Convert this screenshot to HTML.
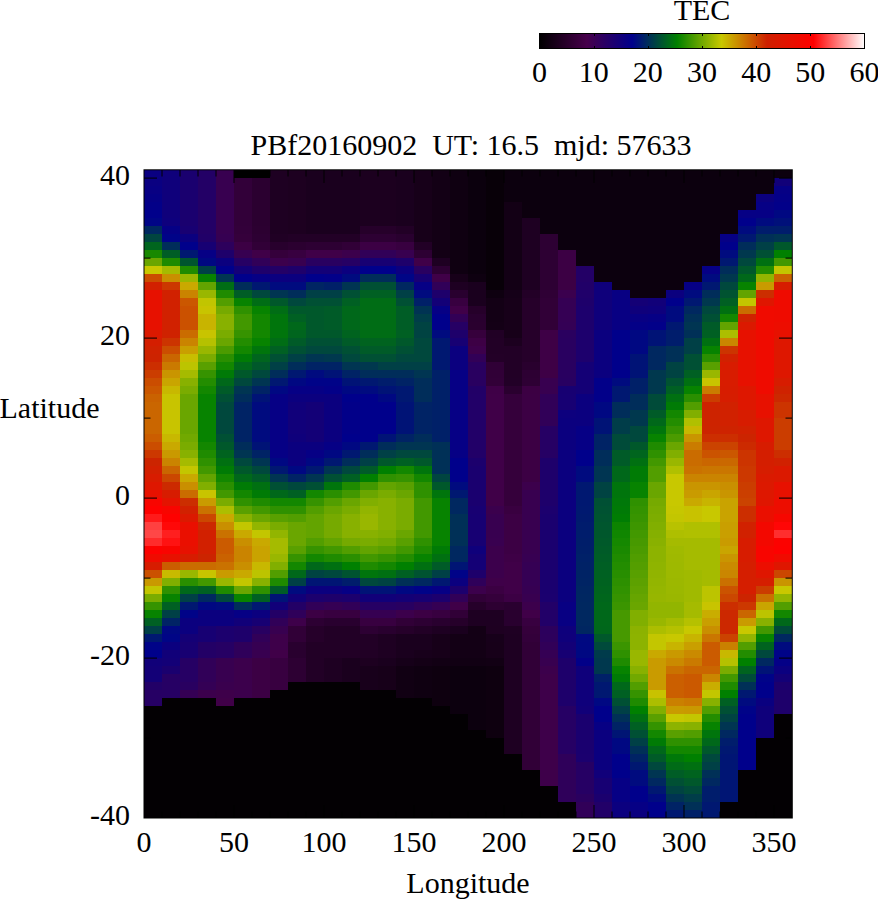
<!DOCTYPE html>
<html><head><meta charset="utf-8"><title>TEC</title>
<style>
html,body{margin:0;padding:0;background:#fff;}
body{width:878px;height:900px;overflow:hidden;position:relative;}
svg{position:absolute;left:0;top:0;}
text{font-family:"Liberation Serif","DejaVu Serif",serif;font-size:30px;fill:#000;}
</style></head><body>
<svg width="878" height="900" viewBox="0 0 878 900">
<defs>
<linearGradient id="pal" x1="0" x2="1" y1="0" y2="0">
<stop offset="0.0000" stop-color="#000"/>
<stop offset="0.1450" stop-color="#46004a"/>
<stop offset="0.2850" stop-color="#00008b"/>
<stop offset="0.4233" stop-color="#008000"/>
<stop offset="0.5600" stop-color="#c8c800"/>
<stop offset="0.7000" stop-color="#ce2000"/>
<stop offset="0.8433" stop-color="#f00"/>
<stop offset="1.0000" stop-color="#fff"/>
</linearGradient>
</defs>
<g shape-rendering="crispEdges">
<rect x="144" y="170" width="648" height="648" fill="#000"/>
<rect x="144" y="170" width="18" height="16" fill="#0a0081"/>
<rect x="144" y="186" width="18" height="8" fill="#080083"/>
<rect x="144" y="194" width="18" height="8" fill="#050085"/>
<rect x="144" y="202" width="18" height="8" fill="#030088"/>
<rect x="144" y="210" width="18" height="8" fill="#00008b"/>
<rect x="144" y="218" width="18" height="8" fill="#000586"/>
<rect x="144" y="226" width="18" height="8" fill="#002860"/>
<rect x="144" y="234" width="18" height="8" fill="#004540"/>
<rect x="144" y="242" width="18" height="8" fill="#00651e"/>
<rect x="144" y="250" width="18" height="8" fill="#188800"/>
<rect x="144" y="258" width="18" height="8" fill="#6aa600"/>
<rect x="144" y="266" width="18" height="8" fill="#c8c800"/>
<rect x="144" y="274" width="18" height="8" fill="#cb4d00"/>
<rect x="144" y="282" width="18" height="8" fill="#d22000"/>
<rect x="144" y="290" width="18" height="40" fill="#e71100"/>
<rect x="144" y="330" width="18" height="8" fill="#db1900"/>
<rect x="144" y="338" width="18" height="8" fill="#d41e00"/>
<rect x="144" y="346" width="18" height="8" fill="#cf2200"/>
<rect x="144" y="354" width="18" height="8" fill="#cd2300"/>
<rect x="144" y="362" width="18" height="8" fill="#cc2e00"/>
<rect x="144" y="370" width="18" height="8" fill="#cb3d00"/>
<rect x="144" y="378" width="18" height="8" fill="#cb4d00"/>
<rect x="144" y="386" width="18" height="8" fill="#cb5700"/>
<rect x="144" y="394" width="18" height="8" fill="#ca6200"/>
<rect x="144" y="402" width="18" height="32" fill="#ca6600"/>
<rect x="144" y="434" width="18" height="8" fill="#cb5d00"/>
<rect x="144" y="442" width="18" height="8" fill="#cb4d00"/>
<rect x="144" y="450" width="18" height="8" fill="#cc3800"/>
<rect x="144" y="458" width="18" height="8" fill="#cc2400"/>
<rect x="144" y="466" width="18" height="8" fill="#d22000"/>
<rect x="144" y="474" width="18" height="8" fill="#d81c00"/>
<rect x="144" y="482" width="18" height="8" fill="#de1700"/>
<rect x="144" y="490" width="18" height="8" fill="#e71100"/>
<rect x="144" y="498" width="18" height="8" fill="#f80500"/>
<rect x="144" y="506" width="18" height="8" fill="#fe0100"/>
<rect x="144" y="514" width="18" height="8" fill="#ff1a1a"/>
<rect x="144" y="522" width="18" height="8" fill="#ff4040"/>
<rect x="144" y="530" width="18" height="8" fill="#ff4747"/>
<rect x="144" y="538" width="18" height="8" fill="#ff2b2b"/>
<rect x="144" y="546" width="18" height="8" fill="#fd0100"/>
<rect x="144" y="554" width="18" height="8" fill="#ef0b00"/>
<rect x="144" y="562" width="18" height="8" fill="#d71c00"/>
<rect x="144" y="570" width="18" height="8" fill="#cb5100"/>
<rect x="144" y="578" width="18" height="8" fill="#c99900"/>
<rect x="144" y="586" width="18" height="8" fill="#c3c600"/>
<rect x="144" y="594" width="18" height="8" fill="#7aac00"/>
<rect x="144" y="602" width="18" height="8" fill="#369300"/>
<rect x="144" y="610" width="18" height="8" fill="#078300"/>
<rect x="144" y="618" width="18" height="8" fill="#006023"/>
<rect x="144" y="626" width="18" height="8" fill="#004046"/>
<rect x="144" y="634" width="18" height="8" fill="#001871"/>
<rect x="144" y="642" width="18" height="8" fill="#000388"/>
<rect x="144" y="650" width="18" height="8" fill="#00008b"/>
<rect x="144" y="658" width="18" height="8" fill="#110079"/>
<rect x="144" y="666" width="18" height="16" fill="#130077"/>
<rect x="144" y="682" width="18" height="8" fill="#220067"/>
<rect x="144" y="690" width="18" height="16" fill="#260064"/>
<rect x="144" y="706" width="18" height="112" fill="#030003"/>
<rect x="162" y="170" width="18" height="48" fill="#0f007b"/>
<rect x="162" y="218" width="18" height="8" fill="#0e007d"/>
<rect x="162" y="226" width="18" height="8" fill="#050085"/>
<rect x="162" y="234" width="18" height="8" fill="#000388"/>
<rect x="162" y="242" width="18" height="8" fill="#002d5a"/>
<rect x="162" y="250" width="18" height="8" fill="#005d26"/>
<rect x="162" y="258" width="18" height="8" fill="#1f8b00"/>
<rect x="162" y="266" width="18" height="8" fill="#a5bb00"/>
<rect x="162" y="274" width="18" height="8" fill="#c98f00"/>
<rect x="162" y="282" width="18" height="8" fill="#cc3800"/>
<rect x="162" y="290" width="18" height="40" fill="#d12100"/>
<rect x="162" y="330" width="18" height="8" fill="#cf2200"/>
<rect x="162" y="338" width="18" height="8" fill="#cc3400"/>
<rect x="162" y="346" width="18" height="8" fill="#cb4d00"/>
<rect x="162" y="354" width="18" height="8" fill="#ca6600"/>
<rect x="162" y="362" width="18" height="8" fill="#ca7a00"/>
<rect x="162" y="370" width="18" height="8" fill="#c99500"/>
<rect x="162" y="378" width="18" height="8" fill="#c9a500"/>
<rect x="162" y="386" width="18" height="8" fill="#c8b800"/>
<rect x="162" y="394" width="18" height="40" fill="#c8c400"/>
<rect x="162" y="434" width="18" height="8" fill="#c8b800"/>
<rect x="162" y="442" width="18" height="8" fill="#c9a900"/>
<rect x="162" y="450" width="18" height="8" fill="#c99900"/>
<rect x="162" y="458" width="18" height="8" fill="#ca8400"/>
<rect x="162" y="466" width="18" height="8" fill="#ca6600"/>
<rect x="162" y="474" width="18" height="8" fill="#cb4700"/>
<rect x="162" y="482" width="18" height="8" fill="#cc2a00"/>
<rect x="162" y="490" width="18" height="8" fill="#d71c00"/>
<rect x="162" y="498" width="18" height="8" fill="#e41300"/>
<rect x="162" y="506" width="18" height="8" fill="#f80500"/>
<rect x="162" y="514" width="18" height="8" fill="#fe0100"/>
<rect x="162" y="522" width="18" height="8" fill="#ff0808"/>
<rect x="162" y="530" width="18" height="8" fill="#ff1f1f"/>
<rect x="162" y="538" width="18" height="8" fill="#ff1212"/>
<rect x="162" y="546" width="18" height="8" fill="#f90400"/>
<rect x="162" y="554" width="18" height="8" fill="#e71100"/>
<rect x="162" y="562" width="18" height="8" fill="#cb5d00"/>
<rect x="162" y="570" width="18" height="8" fill="#c8ba00"/>
<rect x="162" y="578" width="18" height="8" fill="#81af00"/>
<rect x="162" y="586" width="18" height="8" fill="#2f9100"/>
<rect x="162" y="594" width="18" height="8" fill="#078300"/>
<rect x="162" y="602" width="18" height="8" fill="#006023"/>
<rect x="162" y="610" width="18" height="8" fill="#004046"/>
<rect x="162" y="618" width="18" height="8" fill="#002365"/>
<rect x="162" y="626" width="18" height="8" fill="#000882"/>
<rect x="162" y="634" width="18" height="8" fill="#000586"/>
<rect x="162" y="642" width="18" height="8" fill="#0b007f"/>
<rect x="162" y="650" width="18" height="8" fill="#110079"/>
<rect x="162" y="658" width="18" height="8" fill="#130077"/>
<rect x="162" y="666" width="18" height="8" fill="#1a006f"/>
<rect x="162" y="674" width="18" height="24" fill="#260064"/>
<rect x="162" y="698" width="18" height="120" fill="#030003"/>
<rect x="180" y="170" width="18" height="56" fill="#1a006f"/>
<rect x="180" y="226" width="18" height="8" fill="#180072"/>
<rect x="180" y="234" width="18" height="8" fill="#0b007f"/>
<rect x="180" y="242" width="18" height="8" fill="#00008b"/>
<rect x="180" y="250" width="18" height="8" fill="#001871"/>
<rect x="180" y="258" width="18" height="8" fill="#00552f"/>
<rect x="180" y="266" width="18" height="8" fill="#1f8b00"/>
<rect x="180" y="274" width="18" height="8" fill="#99b700"/>
<rect x="180" y="282" width="18" height="8" fill="#c9a900"/>
<rect x="180" y="290" width="18" height="8" fill="#ca8400"/>
<rect x="180" y="298" width="18" height="8" fill="#cb5700"/>
<rect x="180" y="306" width="18" height="24" fill="#cb5100"/>
<rect x="180" y="330" width="18" height="8" fill="#ca6c00"/>
<rect x="180" y="338" width="18" height="8" fill="#ca8400"/>
<rect x="180" y="346" width="18" height="8" fill="#c99f00"/>
<rect x="180" y="354" width="18" height="8" fill="#c8be00"/>
<rect x="180" y="362" width="18" height="8" fill="#bcc400"/>
<rect x="180" y="370" width="18" height="8" fill="#a5bb00"/>
<rect x="180" y="378" width="18" height="8" fill="#88b100"/>
<rect x="180" y="386" width="18" height="8" fill="#7aac00"/>
<rect x="180" y="394" width="18" height="40" fill="#6aa600"/>
<rect x="180" y="434" width="18" height="8" fill="#71a900"/>
<rect x="180" y="442" width="18" height="8" fill="#7aac00"/>
<rect x="180" y="450" width="18" height="8" fill="#88b100"/>
<rect x="180" y="458" width="18" height="8" fill="#a5bb00"/>
<rect x="180" y="466" width="18" height="8" fill="#c3c600"/>
<rect x="180" y="474" width="18" height="8" fill="#c9a900"/>
<rect x="180" y="482" width="18" height="8" fill="#c98f00"/>
<rect x="180" y="490" width="18" height="8" fill="#ca6c00"/>
<rect x="180" y="498" width="18" height="8" fill="#cc2e00"/>
<rect x="180" y="506" width="18" height="8" fill="#d12100"/>
<rect x="180" y="514" width="18" height="8" fill="#db1900"/>
<rect x="180" y="522" width="18" height="24" fill="#ea0f00"/>
<rect x="180" y="546" width="18" height="8" fill="#e71100"/>
<rect x="180" y="554" width="18" height="8" fill="#d71c00"/>
<rect x="180" y="562" width="18" height="8" fill="#ca6c00"/>
<rect x="180" y="570" width="18" height="8" fill="#99b700"/>
<rect x="180" y="578" width="18" height="8" fill="#2a8f00"/>
<rect x="180" y="586" width="18" height="8" fill="#00681a"/>
<rect x="180" y="594" width="18" height="8" fill="#004046"/>
<rect x="180" y="602" width="18" height="8" fill="#001871"/>
<rect x="180" y="610" width="18" height="8" fill="#000388"/>
<rect x="180" y="618" width="18" height="16" fill="#0b007f"/>
<rect x="180" y="634" width="18" height="8" fill="#140076"/>
<rect x="180" y="642" width="18" height="8" fill="#170073"/>
<rect x="180" y="650" width="18" height="8" fill="#180072"/>
<rect x="180" y="658" width="18" height="24" fill="#260064"/>
<rect x="180" y="682" width="18" height="8" fill="#290060"/>
<rect x="180" y="690" width="18" height="8" fill="#350054"/>
<rect x="180" y="698" width="18" height="120" fill="#030003"/>
<rect x="198" y="170" width="18" height="64" fill="#230066"/>
<rect x="198" y="234" width="18" height="8" fill="#210068"/>
<rect x="198" y="242" width="18" height="8" fill="#170073"/>
<rect x="198" y="250" width="18" height="8" fill="#060085"/>
<rect x="198" y="258" width="18" height="8" fill="#000882"/>
<rect x="198" y="266" width="18" height="8" fill="#004046"/>
<rect x="198" y="274" width="18" height="8" fill="#078300"/>
<rect x="198" y="282" width="18" height="8" fill="#63a400"/>
<rect x="198" y="290" width="18" height="8" fill="#99b700"/>
<rect x="198" y="298" width="18" height="8" fill="#c1c500"/>
<rect x="198" y="306" width="18" height="8" fill="#c8c400"/>
<rect x="198" y="314" width="18" height="16" fill="#c8b400"/>
<rect x="198" y="330" width="18" height="8" fill="#c8c400"/>
<rect x="198" y="338" width="18" height="8" fill="#b5c100"/>
<rect x="198" y="346" width="18" height="8" fill="#99b700"/>
<rect x="198" y="354" width="18" height="8" fill="#7aac00"/>
<rect x="198" y="362" width="18" height="8" fill="#59a000"/>
<rect x="198" y="370" width="18" height="8" fill="#369300"/>
<rect x="198" y="378" width="18" height="8" fill="#238d00"/>
<rect x="198" y="386" width="18" height="8" fill="#138700"/>
<rect x="198" y="394" width="18" height="48" fill="#078300"/>
<rect x="198" y="442" width="18" height="8" fill="#138700"/>
<rect x="198" y="450" width="18" height="8" fill="#1f8b00"/>
<rect x="198" y="458" width="18" height="8" fill="#2f9100"/>
<rect x="198" y="466" width="18" height="8" fill="#429800"/>
<rect x="198" y="474" width="18" height="8" fill="#63a400"/>
<rect x="198" y="482" width="18" height="8" fill="#81af00"/>
<rect x="198" y="490" width="18" height="8" fill="#c8c400"/>
<rect x="198" y="498" width="18" height="8" fill="#c99b00"/>
<rect x="198" y="506" width="18" height="8" fill="#ca7200"/>
<rect x="198" y="514" width="18" height="8" fill="#cb4700"/>
<rect x="198" y="522" width="18" height="8" fill="#cc2800"/>
<rect x="198" y="530" width="18" height="24" fill="#d22000"/>
<rect x="198" y="554" width="18" height="8" fill="#cc2400"/>
<rect x="198" y="562" width="18" height="8" fill="#ca6c00"/>
<rect x="198" y="570" width="18" height="8" fill="#c8c400"/>
<rect x="198" y="578" width="18" height="8" fill="#429800"/>
<rect x="198" y="586" width="18" height="8" fill="#006023"/>
<rect x="198" y="594" width="18" height="8" fill="#002860"/>
<rect x="198" y="602" width="18" height="8" fill="#000882"/>
<rect x="198" y="610" width="18" height="16" fill="#0b007f"/>
<rect x="198" y="626" width="18" height="16" fill="#170073"/>
<rect x="198" y="642" width="18" height="16" fill="#230066"/>
<rect x="198" y="658" width="18" height="24" fill="#310058"/>
<rect x="198" y="682" width="18" height="8" fill="#340055"/>
<rect x="198" y="690" width="18" height="8" fill="#3c004c"/>
<rect x="198" y="698" width="18" height="120" fill="#030003"/>
<rect x="216" y="170" width="18" height="64" fill="#380050"/>
<rect x="216" y="234" width="18" height="8" fill="#360052"/>
<rect x="216" y="242" width="18" height="8" fill="#2d005c"/>
<rect x="216" y="250" width="18" height="8" fill="#1e006b"/>
<rect x="216" y="258" width="18" height="8" fill="#0b007f"/>
<rect x="216" y="266" width="18" height="8" fill="#00008b"/>
<rect x="216" y="274" width="18" height="8" fill="#003552"/>
<rect x="216" y="282" width="18" height="8" fill="#006d15"/>
<rect x="216" y="290" width="18" height="8" fill="#1f8b00"/>
<rect x="216" y="298" width="18" height="8" fill="#529e00"/>
<rect x="216" y="306" width="18" height="8" fill="#76aa00"/>
<rect x="216" y="314" width="18" height="16" fill="#88b100"/>
<rect x="216" y="330" width="18" height="8" fill="#7aac00"/>
<rect x="216" y="338" width="18" height="8" fill="#6aa600"/>
<rect x="216" y="346" width="18" height="8" fill="#4b9b00"/>
<rect x="216" y="354" width="18" height="8" fill="#2a8f00"/>
<rect x="216" y="362" width="18" height="8" fill="#138700"/>
<rect x="216" y="370" width="18" height="8" fill="#007a07"/>
<rect x="216" y="378" width="18" height="8" fill="#00681a"/>
<rect x="216" y="386" width="18" height="8" fill="#005b28"/>
<rect x="216" y="394" width="18" height="8" fill="#005034"/>
<rect x="216" y="402" width="18" height="32" fill="#00483d"/>
<rect x="216" y="434" width="18" height="8" fill="#005034"/>
<rect x="216" y="442" width="18" height="8" fill="#00582b"/>
<rect x="216" y="450" width="18" height="8" fill="#00631f"/>
<rect x="216" y="458" width="18" height="8" fill="#007011"/>
<rect x="216" y="466" width="18" height="8" fill="#007b05"/>
<rect x="216" y="474" width="18" height="8" fill="#138700"/>
<rect x="216" y="482" width="18" height="8" fill="#2a8f00"/>
<rect x="216" y="490" width="18" height="8" fill="#429800"/>
<rect x="216" y="498" width="18" height="8" fill="#7aac00"/>
<rect x="216" y="506" width="18" height="8" fill="#acbe00"/>
<rect x="216" y="514" width="18" height="8" fill="#c9a900"/>
<rect x="216" y="522" width="18" height="8" fill="#c98f00"/>
<rect x="216" y="530" width="18" height="8" fill="#ca7200"/>
<rect x="216" y="538" width="18" height="16" fill="#cb5b00"/>
<rect x="216" y="554" width="18" height="8" fill="#ca6200"/>
<rect x="216" y="562" width="18" height="8" fill="#ca7200"/>
<rect x="216" y="570" width="18" height="8" fill="#c99b00"/>
<rect x="216" y="578" width="18" height="8" fill="#99b700"/>
<rect x="216" y="586" width="18" height="8" fill="#1f8b00"/>
<rect x="216" y="594" width="18" height="8" fill="#00483d"/>
<rect x="216" y="602" width="18" height="8" fill="#000b7f"/>
<rect x="216" y="610" width="18" height="16" fill="#0b007f"/>
<rect x="216" y="626" width="18" height="16" fill="#1c006e"/>
<rect x="216" y="642" width="18" height="16" fill="#260064"/>
<rect x="216" y="658" width="18" height="24" fill="#380050"/>
<rect x="216" y="682" width="18" height="8" fill="#3a004e"/>
<rect x="216" y="690" width="18" height="8" fill="#3e004a"/>
<rect x="216" y="698" width="18" height="8" fill="#400048"/>
<rect x="216" y="706" width="18" height="112" fill="#030003"/>
<rect x="234" y="170" width="18" height="8" fill="#000"/>
<rect x="234" y="178" width="18" height="48" fill="#320039"/>
<rect x="234" y="226" width="18" height="8" fill="#33003a"/>
<rect x="234" y="234" width="18" height="8" fill="#35003b"/>
<rect x="234" y="242" width="18" height="8" fill="#3c0044"/>
<rect x="234" y="250" width="18" height="8" fill="#370051"/>
<rect x="234" y="258" width="18" height="8" fill="#260064"/>
<rect x="234" y="266" width="18" height="8" fill="#130077"/>
<rect x="234" y="274" width="18" height="8" fill="#00008b"/>
<rect x="234" y="282" width="18" height="8" fill="#002d5a"/>
<rect x="234" y="290" width="18" height="8" fill="#005d26"/>
<rect x="234" y="298" width="18" height="8" fill="#078300"/>
<rect x="234" y="306" width="18" height="8" fill="#2f9100"/>
<rect x="234" y="314" width="18" height="16" fill="#429800"/>
<rect x="234" y="330" width="18" height="8" fill="#369300"/>
<rect x="234" y="338" width="18" height="8" fill="#238d00"/>
<rect x="234" y="346" width="18" height="8" fill="#138700"/>
<rect x="234" y="354" width="18" height="8" fill="#007b05"/>
<rect x="234" y="362" width="18" height="8" fill="#00681a"/>
<rect x="234" y="370" width="18" height="8" fill="#00582b"/>
<rect x="234" y="378" width="18" height="8" fill="#00483d"/>
<rect x="234" y="386" width="18" height="8" fill="#003552"/>
<rect x="234" y="394" width="18" height="8" fill="#002d5a"/>
<rect x="234" y="402" width="18" height="40" fill="#002365"/>
<rect x="234" y="442" width="18" height="8" fill="#002d5a"/>
<rect x="234" y="450" width="18" height="8" fill="#003552"/>
<rect x="234" y="458" width="18" height="8" fill="#00483d"/>
<rect x="234" y="466" width="18" height="8" fill="#00582b"/>
<rect x="234" y="474" width="18" height="8" fill="#00681a"/>
<rect x="234" y="482" width="18" height="8" fill="#007b05"/>
<rect x="234" y="490" width="18" height="8" fill="#138700"/>
<rect x="234" y="498" width="18" height="8" fill="#2f9100"/>
<rect x="234" y="506" width="18" height="8" fill="#59a000"/>
<rect x="234" y="514" width="18" height="8" fill="#88b100"/>
<rect x="234" y="522" width="18" height="8" fill="#c3c600"/>
<rect x="234" y="530" width="18" height="8" fill="#c9a900"/>
<rect x="234" y="538" width="18" height="8" fill="#c98f00"/>
<rect x="234" y="546" width="18" height="16" fill="#ca8400"/>
<rect x="234" y="562" width="18" height="8" fill="#c98f00"/>
<rect x="234" y="570" width="18" height="8" fill="#c9a900"/>
<rect x="234" y="578" width="18" height="8" fill="#c3c600"/>
<rect x="234" y="586" width="18" height="8" fill="#6aa600"/>
<rect x="234" y="594" width="18" height="8" fill="#078300"/>
<rect x="234" y="602" width="18" height="8" fill="#002d5a"/>
<rect x="234" y="610" width="18" height="8" fill="#060085"/>
<rect x="234" y="618" width="18" height="8" fill="#110079"/>
<rect x="234" y="626" width="18" height="16" fill="#1e006b"/>
<rect x="234" y="642" width="18" height="16" fill="#2f005a"/>
<rect x="234" y="658" width="18" height="40" fill="#3c004c"/>
<rect x="234" y="698" width="18" height="120" fill="#030003"/>
<rect x="252" y="170" width="18" height="8" fill="#000"/>
<rect x="252" y="178" width="18" height="48" fill="#2b0030"/>
<rect x="252" y="226" width="18" height="8" fill="#2c0031"/>
<rect x="252" y="234" width="18" height="8" fill="#2d0033"/>
<rect x="252" y="242" width="18" height="8" fill="#310037"/>
<rect x="252" y="250" width="18" height="8" fill="#400048"/>
<rect x="252" y="258" width="18" height="8" fill="#310058"/>
<rect x="252" y="266" width="18" height="8" fill="#1e006b"/>
<rect x="252" y="274" width="18" height="8" fill="#060085"/>
<rect x="252" y="282" width="18" height="8" fill="#001871"/>
<rect x="252" y="290" width="18" height="8" fill="#00483d"/>
<rect x="252" y="298" width="18" height="8" fill="#006d15"/>
<rect x="252" y="306" width="18" height="8" fill="#078300"/>
<rect x="252" y="314" width="18" height="24" fill="#138700"/>
<rect x="252" y="338" width="18" height="8" fill="#078300"/>
<rect x="252" y="346" width="18" height="8" fill="#00750c"/>
<rect x="252" y="354" width="18" height="8" fill="#00651e"/>
<rect x="252" y="362" width="18" height="8" fill="#00582b"/>
<rect x="252" y="370" width="18" height="8" fill="#00483d"/>
<rect x="252" y="378" width="18" height="8" fill="#003552"/>
<rect x="252" y="386" width="18" height="8" fill="#002365"/>
<rect x="252" y="394" width="18" height="8" fill="#001376"/>
<rect x="252" y="402" width="18" height="40" fill="#000b7f"/>
<rect x="252" y="442" width="18" height="8" fill="#001376"/>
<rect x="252" y="450" width="18" height="8" fill="#002365"/>
<rect x="252" y="458" width="18" height="8" fill="#003552"/>
<rect x="252" y="466" width="18" height="8" fill="#00483d"/>
<rect x="252" y="474" width="18" height="8" fill="#005b28"/>
<rect x="252" y="482" width="18" height="8" fill="#007011"/>
<rect x="252" y="490" width="18" height="8" fill="#007b05"/>
<rect x="252" y="498" width="18" height="8" fill="#1f8b00"/>
<rect x="252" y="506" width="18" height="8" fill="#429800"/>
<rect x="252" y="514" width="18" height="8" fill="#6aa600"/>
<rect x="252" y="522" width="18" height="8" fill="#92b500"/>
<rect x="252" y="530" width="18" height="8" fill="#c3c600"/>
<rect x="252" y="538" width="18" height="8" fill="#c9a900"/>
<rect x="252" y="546" width="18" height="16" fill="#c9a300"/>
<rect x="252" y="562" width="18" height="8" fill="#c8b800"/>
<rect x="252" y="570" width="18" height="8" fill="#bcc400"/>
<rect x="252" y="578" width="18" height="8" fill="#88b100"/>
<rect x="252" y="586" width="18" height="8" fill="#2f9100"/>
<rect x="252" y="594" width="18" height="8" fill="#006023"/>
<rect x="252" y="602" width="18" height="8" fill="#001871"/>
<rect x="252" y="610" width="18" height="8" fill="#0b007f"/>
<rect x="252" y="618" width="18" height="8" fill="#170073"/>
<rect x="252" y="626" width="18" height="8" fill="#280061"/>
<rect x="252" y="634" width="18" height="8" fill="#310058"/>
<rect x="252" y="642" width="18" height="8" fill="#360052"/>
<rect x="252" y="650" width="18" height="8" fill="#380050"/>
<rect x="252" y="658" width="18" height="40" fill="#3c0044"/>
<rect x="252" y="698" width="18" height="120" fill="#030003"/>
<rect x="270" y="170" width="18" height="64" fill="#1e0022"/>
<rect x="270" y="234" width="18" height="8" fill="#200024"/>
<rect x="270" y="242" width="18" height="8" fill="#28002d"/>
<rect x="270" y="250" width="18" height="8" fill="#35003b"/>
<rect x="270" y="258" width="18" height="8" fill="#3c004c"/>
<rect x="270" y="266" width="18" height="8" fill="#230066"/>
<rect x="270" y="274" width="18" height="8" fill="#0b007f"/>
<rect x="270" y="282" width="18" height="8" fill="#000b7f"/>
<rect x="270" y="290" width="18" height="8" fill="#003552"/>
<rect x="270" y="298" width="18" height="8" fill="#00582b"/>
<rect x="270" y="306" width="18" height="8" fill="#006d15"/>
<rect x="270" y="314" width="18" height="24" fill="#00750c"/>
<rect x="270" y="338" width="18" height="8" fill="#006d15"/>
<rect x="270" y="346" width="18" height="8" fill="#006023"/>
<rect x="270" y="354" width="18" height="8" fill="#005034"/>
<rect x="270" y="362" width="18" height="8" fill="#004046"/>
<rect x="270" y="370" width="18" height="8" fill="#002d5a"/>
<rect x="270" y="378" width="18" height="8" fill="#001871"/>
<rect x="270" y="386" width="18" height="8" fill="#000882"/>
<rect x="270" y="394" width="18" height="64" fill="#060085"/>
<rect x="270" y="458" width="18" height="8" fill="#000882"/>
<rect x="270" y="466" width="18" height="8" fill="#001871"/>
<rect x="270" y="474" width="18" height="8" fill="#003552"/>
<rect x="270" y="482" width="18" height="8" fill="#005034"/>
<rect x="270" y="490" width="18" height="8" fill="#00681a"/>
<rect x="270" y="498" width="18" height="8" fill="#138700"/>
<rect x="270" y="506" width="18" height="8" fill="#2f9100"/>
<rect x="270" y="514" width="18" height="8" fill="#59a000"/>
<rect x="270" y="522" width="18" height="8" fill="#7aac00"/>
<rect x="270" y="530" width="18" height="8" fill="#92b500"/>
<rect x="270" y="538" width="18" height="16" fill="#a5bb00"/>
<rect x="270" y="554" width="18" height="8" fill="#99b700"/>
<rect x="270" y="562" width="18" height="8" fill="#81af00"/>
<rect x="270" y="570" width="18" height="8" fill="#529e00"/>
<rect x="270" y="578" width="18" height="8" fill="#1f8b00"/>
<rect x="270" y="586" width="18" height="8" fill="#005b28"/>
<rect x="270" y="594" width="18" height="8" fill="#001376"/>
<rect x="270" y="602" width="18" height="8" fill="#110079"/>
<rect x="270" y="610" width="18" height="8" fill="#230066"/>
<rect x="270" y="618" width="18" height="8" fill="#310058"/>
<rect x="270" y="626" width="18" height="8" fill="#380050"/>
<rect x="270" y="634" width="18" height="16" fill="#3e004a"/>
<rect x="270" y="650" width="18" height="8" fill="#400048"/>
<rect x="270" y="658" width="18" height="32" fill="#380040"/>
<rect x="270" y="690" width="18" height="128" fill="#030003"/>
<rect x="288" y="170" width="18" height="64" fill="#1d0020"/>
<rect x="288" y="234" width="18" height="8" fill="#220026"/>
<rect x="288" y="242" width="18" height="8" fill="#2b0030"/>
<rect x="288" y="250" width="18" height="8" fill="#380040"/>
<rect x="288" y="258" width="18" height="8" fill="#380050"/>
<rect x="288" y="266" width="18" height="8" fill="#1e006b"/>
<rect x="288" y="274" width="18" height="8" fill="#0b007f"/>
<rect x="288" y="282" width="18" height="8" fill="#000b7f"/>
<rect x="288" y="290" width="18" height="8" fill="#002d5a"/>
<rect x="288" y="298" width="18" height="8" fill="#00483d"/>
<rect x="288" y="306" width="18" height="8" fill="#00582b"/>
<rect x="288" y="314" width="18" height="8" fill="#006023"/>
<rect x="288" y="322" width="18" height="8" fill="#00681a"/>
<rect x="288" y="330" width="18" height="8" fill="#00651e"/>
<rect x="288" y="338" width="18" height="8" fill="#005b28"/>
<rect x="288" y="346" width="18" height="8" fill="#005034"/>
<rect x="288" y="354" width="18" height="8" fill="#004046"/>
<rect x="288" y="362" width="18" height="8" fill="#002d5a"/>
<rect x="288" y="370" width="18" height="8" fill="#001871"/>
<rect x="288" y="378" width="18" height="8" fill="#000882"/>
<rect x="288" y="386" width="18" height="8" fill="#060085"/>
<rect x="288" y="394" width="18" height="8" fill="#0b007f"/>
<rect x="288" y="402" width="18" height="8" fill="#0f007b"/>
<rect x="288" y="410" width="18" height="24" fill="#11007a"/>
<rect x="288" y="434" width="18" height="8" fill="#0f007b"/>
<rect x="288" y="442" width="18" height="24" fill="#0b007f"/>
<rect x="288" y="466" width="18" height="8" fill="#000882"/>
<rect x="288" y="474" width="18" height="8" fill="#002365"/>
<rect x="288" y="482" width="18" height="8" fill="#00483d"/>
<rect x="288" y="490" width="18" height="8" fill="#006023"/>
<rect x="288" y="498" width="18" height="8" fill="#138700"/>
<rect x="288" y="506" width="18" height="8" fill="#2f9100"/>
<rect x="288" y="514" width="18" height="8" fill="#529e00"/>
<rect x="288" y="522" width="18" height="24" fill="#6aa600"/>
<rect x="288" y="546" width="18" height="8" fill="#59a000"/>
<rect x="288" y="554" width="18" height="8" fill="#369300"/>
<rect x="288" y="562" width="18" height="8" fill="#138700"/>
<rect x="288" y="570" width="18" height="8" fill="#00681a"/>
<rect x="288" y="578" width="18" height="8" fill="#004046"/>
<rect x="288" y="586" width="18" height="8" fill="#000b7f"/>
<rect x="288" y="594" width="18" height="8" fill="#110079"/>
<rect x="288" y="602" width="18" height="8" fill="#230066"/>
<rect x="288" y="610" width="18" height="8" fill="#2f005a"/>
<rect x="288" y="618" width="18" height="8" fill="#3e004a"/>
<rect x="288" y="626" width="18" height="16" fill="#310037"/>
<rect x="288" y="642" width="18" height="16" fill="#29002f"/>
<rect x="288" y="658" width="18" height="24" fill="#2d0033"/>
<rect x="288" y="682" width="18" height="136" fill="#030003"/>
<rect x="306" y="170" width="18" height="64" fill="#1a001e"/>
<rect x="306" y="234" width="18" height="8" fill="#220026"/>
<rect x="306" y="242" width="18" height="8" fill="#2d0033"/>
<rect x="306" y="250" width="18" height="8" fill="#400048"/>
<rect x="306" y="258" width="18" height="8" fill="#290060"/>
<rect x="306" y="266" width="18" height="8" fill="#130077"/>
<rect x="306" y="274" width="18" height="8" fill="#00008b"/>
<rect x="306" y="282" width="18" height="8" fill="#002563"/>
<rect x="306" y="290" width="18" height="8" fill="#004046"/>
<rect x="306" y="298" width="18" height="8" fill="#005034"/>
<rect x="306" y="306" width="18" height="32" fill="#00582b"/>
<rect x="306" y="338" width="18" height="8" fill="#005034"/>
<rect x="306" y="346" width="18" height="8" fill="#00483d"/>
<rect x="306" y="354" width="18" height="8" fill="#003552"/>
<rect x="306" y="362" width="18" height="8" fill="#002365"/>
<rect x="306" y="370" width="18" height="8" fill="#000b7f"/>
<rect x="306" y="378" width="18" height="8" fill="#000388"/>
<rect x="306" y="386" width="18" height="8" fill="#060085"/>
<rect x="306" y="394" width="18" height="8" fill="#0b007f"/>
<rect x="306" y="402" width="18" height="40" fill="#130077"/>
<rect x="306" y="442" width="18" height="8" fill="#0b007f"/>
<rect x="306" y="450" width="18" height="8" fill="#060085"/>
<rect x="306" y="458" width="18" height="8" fill="#000882"/>
<rect x="306" y="466" width="18" height="8" fill="#001871"/>
<rect x="306" y="474" width="18" height="8" fill="#003552"/>
<rect x="306" y="482" width="18" height="8" fill="#005034"/>
<rect x="306" y="490" width="18" height="8" fill="#138700"/>
<rect x="306" y="498" width="18" height="8" fill="#369300"/>
<rect x="306" y="506" width="18" height="8" fill="#529e00"/>
<rect x="306" y="514" width="18" height="24" fill="#63a400"/>
<rect x="306" y="538" width="18" height="8" fill="#529e00"/>
<rect x="306" y="546" width="18" height="8" fill="#369300"/>
<rect x="306" y="554" width="18" height="8" fill="#138700"/>
<rect x="306" y="562" width="18" height="8" fill="#00681a"/>
<rect x="306" y="570" width="18" height="8" fill="#004342"/>
<rect x="306" y="578" width="18" height="8" fill="#001574"/>
<rect x="306" y="586" width="18" height="8" fill="#0b007f"/>
<rect x="306" y="594" width="18" height="8" fill="#1c006e"/>
<rect x="306" y="602" width="18" height="8" fill="#310058"/>
<rect x="306" y="610" width="18" height="8" fill="#3c0044"/>
<rect x="306" y="618" width="18" height="8" fill="#2d0033"/>
<rect x="306" y="626" width="18" height="16" fill="#26002a"/>
<rect x="306" y="642" width="18" height="40" fill="#220026"/>
<rect x="306" y="682" width="18" height="136" fill="#030003"/>
<rect x="324" y="170" width="18" height="64" fill="#1a001e"/>
<rect x="324" y="234" width="18" height="8" fill="#220026"/>
<rect x="324" y="242" width="18" height="8" fill="#2d0033"/>
<rect x="324" y="250" width="18" height="8" fill="#400048"/>
<rect x="324" y="258" width="18" height="8" fill="#290060"/>
<rect x="324" y="266" width="18" height="8" fill="#130077"/>
<rect x="324" y="274" width="18" height="8" fill="#020089"/>
<rect x="324" y="282" width="18" height="8" fill="#002068"/>
<rect x="324" y="290" width="18" height="8" fill="#004046"/>
<rect x="324" y="298" width="18" height="8" fill="#005034"/>
<rect x="324" y="306" width="18" height="24" fill="#005b28"/>
<rect x="324" y="330" width="18" height="8" fill="#00582b"/>
<rect x="324" y="338" width="18" height="8" fill="#005034"/>
<rect x="324" y="346" width="18" height="8" fill="#00483d"/>
<rect x="324" y="354" width="18" height="8" fill="#00384e"/>
<rect x="324" y="362" width="18" height="8" fill="#002365"/>
<rect x="324" y="370" width="18" height="8" fill="#001376"/>
<rect x="324" y="378" width="18" height="8" fill="#000388"/>
<rect x="324" y="386" width="18" height="8" fill="#030088"/>
<rect x="324" y="394" width="18" height="48" fill="#0b007f"/>
<rect x="324" y="442" width="18" height="8" fill="#060085"/>
<rect x="324" y="450" width="18" height="8" fill="#000882"/>
<rect x="324" y="458" width="18" height="8" fill="#001871"/>
<rect x="324" y="466" width="18" height="8" fill="#003552"/>
<rect x="324" y="474" width="18" height="8" fill="#005034"/>
<rect x="324" y="482" width="18" height="8" fill="#00750c"/>
<rect x="324" y="490" width="18" height="8" fill="#2a8f00"/>
<rect x="324" y="498" width="18" height="8" fill="#529e00"/>
<rect x="324" y="506" width="18" height="8" fill="#6aa600"/>
<rect x="324" y="514" width="18" height="24" fill="#76aa00"/>
<rect x="324" y="538" width="18" height="8" fill="#63a400"/>
<rect x="324" y="546" width="18" height="8" fill="#429800"/>
<rect x="324" y="554" width="18" height="8" fill="#1f8b00"/>
<rect x="324" y="562" width="18" height="8" fill="#007011"/>
<rect x="324" y="570" width="18" height="8" fill="#00483d"/>
<rect x="324" y="578" width="18" height="8" fill="#001574"/>
<rect x="324" y="586" width="18" height="8" fill="#0b007f"/>
<rect x="324" y="594" width="18" height="8" fill="#1e006b"/>
<rect x="324" y="602" width="18" height="8" fill="#350054"/>
<rect x="324" y="610" width="18" height="8" fill="#380040"/>
<rect x="324" y="618" width="18" height="8" fill="#29002f"/>
<rect x="324" y="626" width="18" height="32" fill="#220026"/>
<rect x="324" y="658" width="18" height="24" fill="#1e0022"/>
<rect x="324" y="682" width="18" height="136" fill="#030003"/>
<rect x="342" y="170" width="18" height="64" fill="#1a001e"/>
<rect x="342" y="234" width="18" height="8" fill="#220026"/>
<rect x="342" y="242" width="18" height="8" fill="#310037"/>
<rect x="342" y="250" width="18" height="8" fill="#3c004c"/>
<rect x="342" y="258" width="18" height="8" fill="#260064"/>
<rect x="342" y="266" width="18" height="8" fill="#0b007f"/>
<rect x="342" y="274" width="18" height="8" fill="#000b7f"/>
<rect x="342" y="282" width="18" height="8" fill="#003552"/>
<rect x="342" y="290" width="18" height="8" fill="#005034"/>
<rect x="342" y="298" width="18" height="8" fill="#006023"/>
<rect x="342" y="306" width="18" height="24" fill="#00681a"/>
<rect x="342" y="330" width="18" height="8" fill="#00631f"/>
<rect x="342" y="338" width="18" height="8" fill="#005b28"/>
<rect x="342" y="346" width="18" height="8" fill="#005034"/>
<rect x="342" y="354" width="18" height="8" fill="#00483d"/>
<rect x="342" y="362" width="18" height="8" fill="#003552"/>
<rect x="342" y="370" width="18" height="8" fill="#002365"/>
<rect x="342" y="378" width="18" height="8" fill="#001376"/>
<rect x="342" y="386" width="18" height="8" fill="#000882"/>
<rect x="342" y="394" width="18" height="8" fill="#00008b"/>
<rect x="342" y="402" width="18" height="32" fill="#020089"/>
<rect x="342" y="434" width="18" height="8" fill="#00008b"/>
<rect x="342" y="442" width="18" height="8" fill="#000882"/>
<rect x="342" y="450" width="18" height="8" fill="#001871"/>
<rect x="342" y="458" width="18" height="8" fill="#002d5a"/>
<rect x="342" y="466" width="18" height="8" fill="#00483d"/>
<rect x="342" y="474" width="18" height="8" fill="#006023"/>
<rect x="342" y="482" width="18" height="8" fill="#1f8b00"/>
<rect x="342" y="490" width="18" height="8" fill="#429800"/>
<rect x="342" y="498" width="18" height="8" fill="#6aa600"/>
<rect x="342" y="506" width="18" height="8" fill="#7aac00"/>
<rect x="342" y="514" width="18" height="24" fill="#88b100"/>
<rect x="342" y="538" width="18" height="8" fill="#76aa00"/>
<rect x="342" y="546" width="18" height="8" fill="#529e00"/>
<rect x="342" y="554" width="18" height="8" fill="#2a8f00"/>
<rect x="342" y="562" width="18" height="8" fill="#008000"/>
<rect x="342" y="570" width="18" height="8" fill="#005331"/>
<rect x="342" y="578" width="18" height="8" fill="#001d6c"/>
<rect x="342" y="586" width="18" height="8" fill="#060085"/>
<rect x="342" y="594" width="18" height="8" fill="#1c006e"/>
<rect x="342" y="602" width="18" height="8" fill="#310058"/>
<rect x="342" y="610" width="18" height="8" fill="#380040"/>
<rect x="342" y="618" width="18" height="8" fill="#29002f"/>
<rect x="342" y="626" width="18" height="32" fill="#220026"/>
<rect x="342" y="658" width="18" height="24" fill="#1a001e"/>
<rect x="342" y="682" width="18" height="136" fill="#030003"/>
<rect x="360" y="170" width="18" height="56" fill="#1c001f"/>
<rect x="360" y="226" width="18" height="8" fill="#26002a"/>
<rect x="360" y="234" width="18" height="8" fill="#2d0033"/>
<rect x="360" y="242" width="18" height="8" fill="#3c0044"/>
<rect x="360" y="250" width="18" height="8" fill="#310058"/>
<rect x="360" y="258" width="18" height="8" fill="#170073"/>
<rect x="360" y="266" width="18" height="8" fill="#00008b"/>
<rect x="360" y="274" width="18" height="8" fill="#002d5a"/>
<rect x="360" y="282" width="18" height="8" fill="#005034"/>
<rect x="360" y="290" width="18" height="8" fill="#006023"/>
<rect x="360" y="298" width="18" height="40" fill="#006d15"/>
<rect x="360" y="338" width="18" height="8" fill="#00631f"/>
<rect x="360" y="346" width="18" height="8" fill="#005b28"/>
<rect x="360" y="354" width="18" height="8" fill="#005034"/>
<rect x="360" y="362" width="18" height="8" fill="#00384e"/>
<rect x="360" y="370" width="18" height="8" fill="#002d5a"/>
<rect x="360" y="378" width="18" height="8" fill="#001871"/>
<rect x="360" y="386" width="18" height="8" fill="#000b7f"/>
<rect x="360" y="394" width="18" height="48" fill="#00008b"/>
<rect x="360" y="442" width="18" height="8" fill="#001871"/>
<rect x="360" y="450" width="18" height="8" fill="#002d5a"/>
<rect x="360" y="458" width="18" height="8" fill="#004046"/>
<rect x="360" y="466" width="18" height="8" fill="#005b28"/>
<rect x="360" y="474" width="18" height="8" fill="#008000"/>
<rect x="360" y="482" width="18" height="8" fill="#429800"/>
<rect x="360" y="490" width="18" height="8" fill="#6aa600"/>
<rect x="360" y="498" width="18" height="8" fill="#81af00"/>
<rect x="360" y="506" width="18" height="8" fill="#92b500"/>
<rect x="360" y="514" width="18" height="16" fill="#99b700"/>
<rect x="360" y="530" width="18" height="8" fill="#88b100"/>
<rect x="360" y="538" width="18" height="8" fill="#7aac00"/>
<rect x="360" y="546" width="18" height="8" fill="#63a400"/>
<rect x="360" y="554" width="18" height="8" fill="#429800"/>
<rect x="360" y="562" width="18" height="8" fill="#1f8b00"/>
<rect x="360" y="570" width="18" height="8" fill="#00750c"/>
<rect x="360" y="578" width="18" height="8" fill="#00483d"/>
<rect x="360" y="586" width="18" height="8" fill="#001376"/>
<rect x="360" y="594" width="18" height="8" fill="#110079"/>
<rect x="360" y="602" width="18" height="8" fill="#260064"/>
<rect x="360" y="610" width="18" height="8" fill="#360052"/>
<rect x="360" y="618" width="18" height="8" fill="#380040"/>
<rect x="360" y="626" width="18" height="8" fill="#2d0033"/>
<rect x="360" y="634" width="18" height="16" fill="#220026"/>
<rect x="360" y="650" width="18" height="8" fill="#210025"/>
<rect x="360" y="658" width="18" height="8" fill="#1d0020"/>
<rect x="360" y="666" width="18" height="24" fill="#18001b"/>
<rect x="360" y="690" width="18" height="128" fill="#030003"/>
<rect x="378" y="170" width="18" height="56" fill="#1c001f"/>
<rect x="378" y="226" width="18" height="8" fill="#26002a"/>
<rect x="378" y="234" width="18" height="8" fill="#2d0033"/>
<rect x="378" y="242" width="18" height="8" fill="#3c0044"/>
<rect x="378" y="250" width="18" height="8" fill="#310058"/>
<rect x="378" y="258" width="18" height="8" fill="#170073"/>
<rect x="378" y="266" width="18" height="8" fill="#00008b"/>
<rect x="378" y="274" width="18" height="8" fill="#002d5a"/>
<rect x="378" y="282" width="18" height="8" fill="#005034"/>
<rect x="378" y="290" width="18" height="8" fill="#006023"/>
<rect x="378" y="298" width="18" height="40" fill="#006d15"/>
<rect x="378" y="338" width="18" height="8" fill="#00631f"/>
<rect x="378" y="346" width="18" height="8" fill="#005b28"/>
<rect x="378" y="354" width="18" height="8" fill="#005034"/>
<rect x="378" y="362" width="18" height="8" fill="#004046"/>
<rect x="378" y="370" width="18" height="8" fill="#002d5a"/>
<rect x="378" y="378" width="18" height="8" fill="#001d6c"/>
<rect x="378" y="386" width="18" height="8" fill="#001376"/>
<rect x="378" y="394" width="18" height="8" fill="#000882"/>
<rect x="378" y="402" width="18" height="32" fill="#00008b"/>
<rect x="378" y="434" width="18" height="8" fill="#001376"/>
<rect x="378" y="442" width="18" height="8" fill="#002d5a"/>
<rect x="378" y="450" width="18" height="8" fill="#004046"/>
<rect x="378" y="458" width="18" height="8" fill="#00582b"/>
<rect x="378" y="466" width="18" height="8" fill="#008000"/>
<rect x="378" y="474" width="18" height="8" fill="#2f9100"/>
<rect x="378" y="482" width="18" height="8" fill="#63a400"/>
<rect x="378" y="490" width="18" height="8" fill="#7aac00"/>
<rect x="378" y="498" width="18" height="32" fill="#88b100"/>
<rect x="378" y="530" width="18" height="8" fill="#81af00"/>
<rect x="378" y="538" width="18" height="8" fill="#71a900"/>
<rect x="378" y="546" width="18" height="8" fill="#59a000"/>
<rect x="378" y="554" width="18" height="8" fill="#369300"/>
<rect x="378" y="562" width="18" height="8" fill="#138700"/>
<rect x="378" y="570" width="18" height="8" fill="#007011"/>
<rect x="378" y="578" width="18" height="8" fill="#004342"/>
<rect x="378" y="586" width="18" height="8" fill="#001376"/>
<rect x="378" y="594" width="18" height="8" fill="#110079"/>
<rect x="378" y="602" width="18" height="8" fill="#260064"/>
<rect x="378" y="610" width="18" height="8" fill="#360052"/>
<rect x="378" y="618" width="18" height="8" fill="#380040"/>
<rect x="378" y="626" width="18" height="8" fill="#29002f"/>
<rect x="378" y="634" width="18" height="24" fill="#1e0022"/>
<rect x="378" y="658" width="18" height="8" fill="#1a001e"/>
<rect x="378" y="666" width="18" height="24" fill="#170019"/>
<rect x="378" y="690" width="18" height="128" fill="#030003"/>
<rect x="396" y="170" width="18" height="56" fill="#1a001e"/>
<rect x="396" y="226" width="18" height="8" fill="#220026"/>
<rect x="396" y="234" width="18" height="8" fill="#29002f"/>
<rect x="396" y="242" width="18" height="8" fill="#380040"/>
<rect x="396" y="250" width="18" height="8" fill="#380050"/>
<rect x="396" y="258" width="18" height="8" fill="#1e006b"/>
<rect x="396" y="266" width="18" height="8" fill="#0b007f"/>
<rect x="396" y="274" width="18" height="8" fill="#000586"/>
<rect x="396" y="282" width="18" height="8" fill="#002860"/>
<rect x="396" y="290" width="18" height="8" fill="#004046"/>
<rect x="396" y="298" width="18" height="8" fill="#005034"/>
<rect x="396" y="306" width="18" height="24" fill="#005d26"/>
<rect x="396" y="330" width="18" height="8" fill="#006023"/>
<rect x="396" y="338" width="18" height="8" fill="#00582b"/>
<rect x="396" y="346" width="18" height="8" fill="#005034"/>
<rect x="396" y="354" width="18" height="8" fill="#00483d"/>
<rect x="396" y="362" width="18" height="8" fill="#004046"/>
<rect x="396" y="370" width="18" height="8" fill="#002d5a"/>
<rect x="396" y="378" width="18" height="8" fill="#002365"/>
<rect x="396" y="386" width="18" height="16" fill="#001871"/>
<rect x="396" y="402" width="18" height="32" fill="#001376"/>
<rect x="396" y="434" width="18" height="8" fill="#002365"/>
<rect x="396" y="442" width="18" height="8" fill="#003552"/>
<rect x="396" y="450" width="18" height="8" fill="#00483d"/>
<rect x="396" y="458" width="18" height="8" fill="#006023"/>
<rect x="396" y="466" width="18" height="8" fill="#138700"/>
<rect x="396" y="474" width="18" height="8" fill="#369300"/>
<rect x="396" y="482" width="18" height="8" fill="#59a000"/>
<rect x="396" y="490" width="18" height="8" fill="#6aa600"/>
<rect x="396" y="498" width="18" height="32" fill="#7aac00"/>
<rect x="396" y="530" width="18" height="8" fill="#6aa600"/>
<rect x="396" y="538" width="18" height="8" fill="#59a000"/>
<rect x="396" y="546" width="18" height="8" fill="#429800"/>
<rect x="396" y="554" width="18" height="8" fill="#238d00"/>
<rect x="396" y="562" width="18" height="8" fill="#008000"/>
<rect x="396" y="570" width="18" height="8" fill="#006023"/>
<rect x="396" y="578" width="18" height="8" fill="#003057"/>
<rect x="396" y="586" width="18" height="8" fill="#000882"/>
<rect x="396" y="594" width="18" height="8" fill="#140076"/>
<rect x="396" y="602" width="18" height="8" fill="#280061"/>
<rect x="396" y="610" width="18" height="8" fill="#3c004c"/>
<rect x="396" y="618" width="18" height="8" fill="#310037"/>
<rect x="396" y="626" width="18" height="8" fill="#26002a"/>
<rect x="396" y="634" width="18" height="24" fill="#1a001e"/>
<rect x="396" y="658" width="18" height="8" fill="#160019"/>
<rect x="396" y="666" width="18" height="32" fill="#110013"/>
<rect x="396" y="698" width="18" height="120" fill="#030003"/>
<rect x="414" y="170" width="18" height="72" fill="#170019"/>
<rect x="414" y="242" width="18" height="8" fill="#220026"/>
<rect x="414" y="250" width="18" height="8" fill="#2d0033"/>
<rect x="414" y="258" width="18" height="8" fill="#400048"/>
<rect x="414" y="266" width="18" height="8" fill="#290060"/>
<rect x="414" y="274" width="18" height="8" fill="#170073"/>
<rect x="414" y="282" width="18" height="8" fill="#060085"/>
<rect x="414" y="290" width="18" height="8" fill="#000b7f"/>
<rect x="414" y="298" width="18" height="8" fill="#002068"/>
<rect x="414" y="306" width="18" height="8" fill="#003353"/>
<rect x="414" y="314" width="18" height="8" fill="#003d49"/>
<rect x="414" y="322" width="18" height="16" fill="#004342"/>
<rect x="414" y="338" width="18" height="24" fill="#00483d"/>
<rect x="414" y="362" width="18" height="8" fill="#004046"/>
<rect x="414" y="370" width="18" height="8" fill="#003552"/>
<rect x="414" y="378" width="18" height="24" fill="#002d5a"/>
<rect x="414" y="402" width="18" height="32" fill="#002365"/>
<rect x="414" y="434" width="18" height="8" fill="#002d5a"/>
<rect x="414" y="442" width="18" height="8" fill="#003552"/>
<rect x="414" y="450" width="18" height="8" fill="#00483d"/>
<rect x="414" y="458" width="18" height="8" fill="#00582b"/>
<rect x="414" y="466" width="18" height="8" fill="#00750c"/>
<rect x="414" y="474" width="18" height="8" fill="#138700"/>
<rect x="414" y="482" width="18" height="16" fill="#2f9100"/>
<rect x="414" y="498" width="18" height="40" fill="#429800"/>
<rect x="414" y="538" width="18" height="8" fill="#2f9100"/>
<rect x="414" y="546" width="18" height="8" fill="#1f8b00"/>
<rect x="414" y="554" width="18" height="8" fill="#078300"/>
<rect x="414" y="562" width="18" height="8" fill="#007011"/>
<rect x="414" y="570" width="18" height="8" fill="#005331"/>
<rect x="414" y="578" width="18" height="8" fill="#002860"/>
<rect x="414" y="586" width="18" height="8" fill="#000388"/>
<rect x="414" y="594" width="18" height="8" fill="#170073"/>
<rect x="414" y="602" width="18" height="8" fill="#2f005a"/>
<rect x="414" y="610" width="18" height="8" fill="#3c0044"/>
<rect x="414" y="618" width="18" height="8" fill="#2d0033"/>
<rect x="414" y="626" width="18" height="8" fill="#220026"/>
<rect x="414" y="634" width="18" height="16" fill="#1a001e"/>
<rect x="414" y="650" width="18" height="8" fill="#18001b"/>
<rect x="414" y="658" width="18" height="8" fill="#140016"/>
<rect x="414" y="666" width="18" height="32" fill="#0f0011"/>
<rect x="414" y="698" width="18" height="120" fill="#030003"/>
<rect x="432" y="170" width="18" height="88" fill="#130015"/>
<rect x="432" y="258" width="18" height="8" fill="#1e0022"/>
<rect x="432" y="266" width="18" height="8" fill="#2d0033"/>
<rect x="432" y="274" width="18" height="8" fill="#400048"/>
<rect x="432" y="282" width="18" height="8" fill="#310058"/>
<rect x="432" y="290" width="18" height="8" fill="#1e006b"/>
<rect x="432" y="298" width="18" height="8" fill="#130077"/>
<rect x="432" y="306" width="18" height="8" fill="#060085"/>
<rect x="432" y="314" width="18" height="16" fill="#00008b"/>
<rect x="432" y="330" width="18" height="8" fill="#000b7f"/>
<rect x="432" y="338" width="18" height="32" fill="#001871"/>
<rect x="432" y="370" width="18" height="72" fill="#002068"/>
<rect x="432" y="442" width="18" height="32" fill="#003057"/>
<rect x="432" y="474" width="18" height="8" fill="#004540"/>
<rect x="432" y="482" width="18" height="8" fill="#00582b"/>
<rect x="432" y="490" width="18" height="8" fill="#00750c"/>
<rect x="432" y="498" width="18" height="48" fill="#078300"/>
<rect x="432" y="546" width="18" height="8" fill="#007b05"/>
<rect x="432" y="554" width="18" height="8" fill="#007011"/>
<rect x="432" y="562" width="18" height="8" fill="#005b28"/>
<rect x="432" y="570" width="18" height="8" fill="#004046"/>
<rect x="432" y="578" width="18" height="8" fill="#001871"/>
<rect x="432" y="586" width="18" height="8" fill="#060085"/>
<rect x="432" y="594" width="18" height="8" fill="#1c006e"/>
<rect x="432" y="602" width="18" height="8" fill="#350054"/>
<rect x="432" y="610" width="18" height="8" fill="#380040"/>
<rect x="432" y="618" width="18" height="8" fill="#29002f"/>
<rect x="432" y="626" width="18" height="8" fill="#1e0022"/>
<rect x="432" y="634" width="18" height="24" fill="#170019"/>
<rect x="432" y="658" width="18" height="8" fill="#120014"/>
<rect x="432" y="666" width="18" height="40" fill="#0e000f"/>
<rect x="432" y="706" width="18" height="112" fill="#030003"/>
<rect x="450" y="170" width="18" height="104" fill="#0f0011"/>
<rect x="450" y="274" width="18" height="8" fill="#170019"/>
<rect x="450" y="282" width="18" height="8" fill="#1e0022"/>
<rect x="450" y="290" width="18" height="8" fill="#29002f"/>
<rect x="450" y="298" width="18" height="8" fill="#380040"/>
<rect x="450" y="306" width="18" height="8" fill="#400048"/>
<rect x="450" y="314" width="18" height="8" fill="#320056"/>
<rect x="450" y="322" width="18" height="8" fill="#260064"/>
<rect x="450" y="330" width="18" height="8" fill="#1e006b"/>
<rect x="450" y="338" width="18" height="8" fill="#170073"/>
<rect x="450" y="346" width="18" height="24" fill="#0b007f"/>
<rect x="450" y="370" width="18" height="88" fill="#060085"/>
<rect x="450" y="458" width="18" height="24" fill="#00008b"/>
<rect x="450" y="482" width="18" height="8" fill="#000b7f"/>
<rect x="450" y="490" width="18" height="8" fill="#001871"/>
<rect x="450" y="498" width="18" height="16" fill="#002860"/>
<rect x="450" y="514" width="18" height="32" fill="#003057"/>
<rect x="450" y="546" width="18" height="16" fill="#002860"/>
<rect x="450" y="562" width="18" height="8" fill="#001574"/>
<rect x="450" y="570" width="18" height="8" fill="#000388"/>
<rect x="450" y="578" width="18" height="8" fill="#0b007f"/>
<rect x="450" y="586" width="18" height="8" fill="#1c006e"/>
<rect x="450" y="594" width="18" height="8" fill="#310058"/>
<rect x="450" y="602" width="18" height="8" fill="#400048"/>
<rect x="450" y="610" width="18" height="8" fill="#310037"/>
<rect x="450" y="618" width="18" height="8" fill="#26002a"/>
<rect x="450" y="626" width="18" height="8" fill="#1a001e"/>
<rect x="450" y="634" width="18" height="24" fill="#130015"/>
<rect x="450" y="658" width="18" height="8" fill="#110013"/>
<rect x="450" y="666" width="18" height="48" fill="#0c000e"/>
<rect x="450" y="714" width="18" height="104" fill="#030003"/>
<rect x="468" y="170" width="18" height="104" fill="#0b000d"/>
<rect x="468" y="274" width="18" height="8" fill="#0e0010"/>
<rect x="468" y="282" width="18" height="24" fill="#1a001e"/>
<rect x="468" y="306" width="18" height="8" fill="#26002a"/>
<rect x="468" y="314" width="18" height="8" fill="#29002f"/>
<rect x="468" y="322" width="18" height="8" fill="#2a002f"/>
<rect x="468" y="330" width="18" height="8" fill="#36003c"/>
<rect x="468" y="338" width="18" height="8" fill="#3d0045"/>
<rect x="468" y="346" width="18" height="8" fill="#3d004b"/>
<rect x="468" y="354" width="18" height="8" fill="#320057"/>
<rect x="468" y="362" width="18" height="24" fill="#290060"/>
<rect x="468" y="386" width="18" height="8" fill="#220067"/>
<rect x="468" y="394" width="18" height="64" fill="#220068"/>
<rect x="468" y="458" width="18" height="8" fill="#1c006d"/>
<rect x="468" y="466" width="18" height="40" fill="#1a006f"/>
<rect x="468" y="506" width="18" height="8" fill="#180072"/>
<rect x="468" y="514" width="18" height="32" fill="#170073"/>
<rect x="468" y="546" width="18" height="8" fill="#0f007b"/>
<rect x="468" y="554" width="18" height="16" fill="#140076"/>
<rect x="468" y="570" width="18" height="8" fill="#1e006b"/>
<rect x="468" y="578" width="18" height="8" fill="#2f005a"/>
<rect x="468" y="586" width="18" height="8" fill="#3c004c"/>
<rect x="468" y="594" width="18" height="8" fill="#310037"/>
<rect x="468" y="602" width="18" height="8" fill="#26002a"/>
<rect x="468" y="610" width="18" height="16" fill="#1e0022"/>
<rect x="468" y="626" width="18" height="32" fill="#130015"/>
<rect x="468" y="658" width="18" height="8" fill="#110013"/>
<rect x="468" y="666" width="18" height="64" fill="#0c000e"/>
<rect x="468" y="730" width="18" height="88" fill="#030003"/>
<rect x="486" y="170" width="18" height="120" fill="#080008"/>
<rect x="486" y="290" width="18" height="8" fill="#0e0010"/>
<rect x="486" y="298" width="18" height="24" fill="#130015"/>
<rect x="486" y="322" width="18" height="8" fill="#140016"/>
<rect x="486" y="330" width="18" height="8" fill="#210025"/>
<rect x="486" y="338" width="18" height="16" fill="#220026"/>
<rect x="486" y="354" width="18" height="8" fill="#230027"/>
<rect x="486" y="362" width="18" height="8" fill="#300036"/>
<rect x="486" y="370" width="18" height="8" fill="#310037"/>
<rect x="486" y="378" width="18" height="8" fill="#320038"/>
<rect x="486" y="386" width="18" height="8" fill="#3f0047"/>
<rect x="486" y="394" width="18" height="112" fill="#400048"/>
<rect x="486" y="506" width="18" height="8" fill="#3b004d"/>
<rect x="486" y="514" width="18" height="24" fill="#380050"/>
<rect x="486" y="538" width="18" height="8" fill="#390050"/>
<rect x="486" y="546" width="18" height="32" fill="#3c004c"/>
<rect x="486" y="578" width="18" height="8" fill="#3f0049"/>
<rect x="486" y="586" width="18" height="8" fill="#3b0042"/>
<rect x="486" y="594" width="18" height="8" fill="#35003b"/>
<rect x="486" y="602" width="18" height="8" fill="#2d0032"/>
<rect x="486" y="610" width="18" height="16" fill="#1e0022"/>
<rect x="486" y="626" width="18" height="8" fill="#1e0021"/>
<rect x="486" y="634" width="18" height="8" fill="#17001a"/>
<rect x="486" y="642" width="18" height="16" fill="#170019"/>
<rect x="486" y="658" width="18" height="8" fill="#120014"/>
<rect x="486" y="666" width="18" height="72" fill="#0e000f"/>
<rect x="486" y="738" width="18" height="80" fill="#030003"/>
<rect x="504" y="170" width="18" height="32" fill="#0c000e"/>
<rect x="504" y="202" width="18" height="88" fill="#130015"/>
<rect x="504" y="290" width="18" height="8" fill="#150018"/>
<rect x="504" y="298" width="18" height="40" fill="#170019"/>
<rect x="504" y="338" width="18" height="8" fill="#1c001f"/>
<rect x="504" y="346" width="18" height="32" fill="#220026"/>
<rect x="504" y="378" width="18" height="8" fill="#220027"/>
<rect x="504" y="386" width="18" height="8" fill="#2a002f"/>
<rect x="504" y="394" width="18" height="112" fill="#35003b"/>
<rect x="504" y="506" width="18" height="8" fill="#390040"/>
<rect x="504" y="514" width="18" height="40" fill="#3c0044"/>
<rect x="504" y="554" width="18" height="8" fill="#3e0046"/>
<rect x="504" y="562" width="18" height="32" fill="#400048"/>
<rect x="504" y="594" width="18" height="8" fill="#3c0044"/>
<rect x="504" y="602" width="18" height="8" fill="#2a0030"/>
<rect x="504" y="610" width="18" height="16" fill="#29002f"/>
<rect x="504" y="626" width="18" height="8" fill="#1f0023"/>
<rect x="504" y="634" width="18" height="120" fill="#1e0022"/>
<rect x="504" y="754" width="18" height="64" fill="#030003"/>
<rect x="522" y="170" width="18" height="48" fill="#0c000e"/>
<rect x="522" y="218" width="18" height="72" fill="#1e0022"/>
<rect x="522" y="290" width="18" height="8" fill="#230027"/>
<rect x="522" y="298" width="18" height="64" fill="#26002a"/>
<rect x="522" y="362" width="18" height="8" fill="#29002e"/>
<rect x="522" y="370" width="18" height="8" fill="#2d0033"/>
<rect x="522" y="378" width="18" height="8" fill="#2e0034"/>
<rect x="522" y="386" width="18" height="8" fill="#3c0043"/>
<rect x="522" y="394" width="18" height="88" fill="#3c0044"/>
<rect x="522" y="482" width="18" height="8" fill="#3c004c"/>
<rect x="522" y="490" width="18" height="64" fill="#380050"/>
<rect x="522" y="554" width="18" height="8" fill="#370052"/>
<rect x="522" y="562" width="18" height="24" fill="#350054"/>
<rect x="522" y="586" width="18" height="8" fill="#360052"/>
<rect x="522" y="594" width="18" height="8" fill="#380050"/>
<rect x="522" y="602" width="18" height="8" fill="#3c004c"/>
<rect x="522" y="610" width="18" height="8" fill="#400048"/>
<rect x="522" y="618" width="18" height="8" fill="#380040"/>
<rect x="522" y="626" width="18" height="8" fill="#35003b"/>
<rect x="522" y="634" width="18" height="8" fill="#33003a"/>
<rect x="522" y="642" width="18" height="128" fill="#310037"/>
<rect x="522" y="770" width="18" height="48" fill="#030003"/>
<rect x="540" y="170" width="18" height="64" fill="#0c000e"/>
<rect x="540" y="234" width="18" height="56" fill="#2d0033"/>
<rect x="540" y="290" width="18" height="8" fill="#2f0035"/>
<rect x="540" y="298" width="18" height="32" fill="#310037"/>
<rect x="540" y="330" width="18" height="48" fill="#3e0046"/>
<rect x="540" y="378" width="18" height="16" fill="#380050"/>
<rect x="540" y="394" width="18" height="32" fill="#310058"/>
<rect x="540" y="426" width="18" height="32" fill="#260064"/>
<rect x="540" y="458" width="18" height="48" fill="#1e006b"/>
<rect x="540" y="506" width="18" height="8" fill="#1c006e"/>
<rect x="540" y="514" width="18" height="80" fill="#1a006f"/>
<rect x="540" y="594" width="18" height="8" fill="#1b006f"/>
<rect x="540" y="602" width="18" height="24" fill="#220068"/>
<rect x="540" y="626" width="18" height="8" fill="#2c005d"/>
<rect x="540" y="634" width="18" height="8" fill="#2d005c"/>
<rect x="540" y="642" width="18" height="8" fill="#310058"/>
<rect x="540" y="650" width="18" height="8" fill="#350054"/>
<rect x="540" y="658" width="18" height="8" fill="#380050"/>
<rect x="540" y="666" width="18" height="8" fill="#3c004c"/>
<rect x="540" y="674" width="18" height="112" fill="#3e004a"/>
<rect x="540" y="786" width="18" height="32" fill="#030003"/>
<rect x="558" y="170" width="18" height="80" fill="#0c000e"/>
<rect x="558" y="250" width="18" height="40" fill="#3c0044"/>
<rect x="558" y="290" width="18" height="8" fill="#3b004e"/>
<rect x="558" y="298" width="18" height="24" fill="#350054"/>
<rect x="558" y="322" width="18" height="8" fill="#340055"/>
<rect x="558" y="330" width="18" height="8" fill="#2a005f"/>
<rect x="558" y="338" width="18" height="40" fill="#290060"/>
<rect x="558" y="378" width="18" height="8" fill="#280061"/>
<rect x="558" y="386" width="18" height="8" fill="#170072"/>
<rect x="558" y="394" width="18" height="16" fill="#170073"/>
<rect x="558" y="410" width="18" height="8" fill="#0d007e"/>
<rect x="558" y="418" width="18" height="184" fill="#0b007f"/>
<rect x="558" y="602" width="18" height="24" fill="#080083"/>
<rect x="558" y="626" width="18" height="8" fill="#0e007c"/>
<rect x="558" y="634" width="18" height="8" fill="#0f007b"/>
<rect x="558" y="642" width="18" height="8" fill="#130077"/>
<rect x="558" y="650" width="18" height="8" fill="#170073"/>
<rect x="558" y="658" width="18" height="48" fill="#1e006b"/>
<rect x="558" y="706" width="18" height="48" fill="#260064"/>
<rect x="558" y="754" width="18" height="48" fill="#2f005a"/>
<rect x="558" y="802" width="18" height="16" fill="#030003"/>
<rect x="576" y="170" width="18" height="96" fill="#0c000e"/>
<rect x="576" y="266" width="18" height="16" fill="#230066"/>
<rect x="576" y="282" width="18" height="8" fill="#210068"/>
<rect x="576" y="290" width="18" height="8" fill="#20006a"/>
<rect x="576" y="298" width="18" height="8" fill="#1e006b"/>
<rect x="576" y="306" width="18" height="56" fill="#1d006d"/>
<rect x="576" y="362" width="18" height="32" fill="#140076"/>
<rect x="576" y="394" width="18" height="32" fill="#0b007f"/>
<rect x="576" y="426" width="18" height="24" fill="#060085"/>
<rect x="576" y="450" width="18" height="16" fill="#00008b"/>
<rect x="576" y="466" width="18" height="16" fill="#000b7f"/>
<rect x="576" y="482" width="18" height="24" fill="#001871"/>
<rect x="576" y="506" width="18" height="8" fill="#001970"/>
<rect x="576" y="514" width="18" height="8" fill="#001a6e"/>
<rect x="576" y="522" width="18" height="8" fill="#001c6d"/>
<rect x="576" y="530" width="18" height="8" fill="#001d6c"/>
<rect x="576" y="538" width="18" height="8" fill="#001e6a"/>
<rect x="576" y="546" width="18" height="8" fill="#001f69"/>
<rect x="576" y="554" width="18" height="8" fill="#002168"/>
<rect x="576" y="562" width="18" height="8" fill="#026"/>
<rect x="576" y="570" width="18" height="8" fill="#002365"/>
<rect x="576" y="578" width="18" height="8" fill="#002464"/>
<rect x="576" y="586" width="18" height="8" fill="#002662"/>
<rect x="576" y="594" width="18" height="8" fill="#002761"/>
<rect x="576" y="602" width="18" height="24" fill="#002860"/>
<rect x="576" y="626" width="18" height="8" fill="#002661"/>
<rect x="576" y="634" width="18" height="8" fill="#000981"/>
<rect x="576" y="642" width="18" height="16" fill="#000882"/>
<rect x="576" y="658" width="18" height="8" fill="#020088"/>
<rect x="576" y="666" width="18" height="40" fill="#0f007b"/>
<rect x="576" y="706" width="18" height="8" fill="#110079"/>
<rect x="576" y="714" width="18" height="40" fill="#1a006f"/>
<rect x="576" y="754" width="18" height="8" fill="#1b006f"/>
<rect x="576" y="762" width="18" height="8" fill="#250064"/>
<rect x="576" y="770" width="18" height="24" fill="#260064"/>
<rect x="576" y="794" width="18" height="8" fill="#2a005f"/>
<rect x="576" y="802" width="18" height="16" fill="#310058"/>
<rect x="594" y="170" width="18" height="112" fill="#0c000e"/>
<rect x="594" y="282" width="18" height="48" fill="#0f007b"/>
<rect x="594" y="330" width="18" height="48" fill="#0b007f"/>
<rect x="594" y="378" width="18" height="24" fill="#020089"/>
<rect x="594" y="402" width="18" height="16" fill="#000882"/>
<rect x="594" y="418" width="18" height="16" fill="#001376"/>
<rect x="594" y="434" width="18" height="16" fill="#002365"/>
<rect x="594" y="450" width="18" height="16" fill="#002d5a"/>
<rect x="594" y="466" width="18" height="16" fill="#003552"/>
<rect x="594" y="482" width="18" height="16" fill="#004342"/>
<rect x="594" y="498" width="18" height="8" fill="#005034"/>
<rect x="594" y="506" width="18" height="8" fill="#005232"/>
<rect x="594" y="514" width="18" height="8" fill="#005430"/>
<rect x="594" y="522" width="18" height="8" fill="#00562e"/>
<rect x="594" y="530" width="18" height="8" fill="#00572c"/>
<rect x="594" y="538" width="18" height="8" fill="#00592a"/>
<rect x="594" y="546" width="18" height="8" fill="#005b28"/>
<rect x="594" y="554" width="18" height="8" fill="#005d26"/>
<rect x="594" y="562" width="18" height="8" fill="#005f24"/>
<rect x="594" y="570" width="18" height="8" fill="#006122"/>
<rect x="594" y="578" width="18" height="8" fill="#006220"/>
<rect x="594" y="586" width="18" height="8" fill="#00641e"/>
<rect x="594" y="594" width="18" height="8" fill="#00661c"/>
<rect x="594" y="602" width="18" height="24" fill="#00681a"/>
<rect x="594" y="626" width="18" height="8" fill="#00671b"/>
<rect x="594" y="634" width="18" height="8" fill="#00582b"/>
<rect x="594" y="642" width="18" height="8" fill="#004a3b"/>
<rect x="594" y="650" width="18" height="8" fill="#003b4b"/>
<rect x="594" y="658" width="18" height="16" fill="#00384e"/>
<rect x="594" y="674" width="18" height="8" fill="#002068"/>
<rect x="594" y="682" width="18" height="16" fill="#001871"/>
<rect x="594" y="698" width="18" height="8" fill="#000883"/>
<rect x="594" y="706" width="18" height="16" fill="#00008b"/>
<rect x="594" y="722" width="18" height="8" fill="#070084"/>
<rect x="594" y="730" width="18" height="40" fill="#0b007f"/>
<rect x="594" y="770" width="18" height="8" fill="#11007a"/>
<rect x="594" y="778" width="18" height="16" fill="#170073"/>
<rect x="594" y="794" width="18" height="8" fill="#1b006e"/>
<rect x="594" y="802" width="18" height="16" fill="#220068"/>
<rect x="612" y="170" width="18" height="120" fill="#0c000e"/>
<rect x="612" y="290" width="18" height="40" fill="#080083"/>
<rect x="612" y="330" width="18" height="48" fill="#00008b"/>
<rect x="612" y="378" width="18" height="8" fill="#000b7f"/>
<rect x="612" y="386" width="18" height="16" fill="#001871"/>
<rect x="612" y="402" width="18" height="16" fill="#002d5a"/>
<rect x="612" y="418" width="18" height="16" fill="#003d49"/>
<rect x="612" y="434" width="18" height="16" fill="#004b39"/>
<rect x="612" y="450" width="18" height="16" fill="#005b28"/>
<rect x="612" y="466" width="18" height="16" fill="#00681a"/>
<rect x="612" y="482" width="18" height="16" fill="#00750c"/>
<rect x="612" y="498" width="18" height="8" fill="#007809"/>
<rect x="612" y="506" width="18" height="8" fill="#007a06"/>
<rect x="612" y="514" width="18" height="8" fill="#007d03"/>
<rect x="612" y="522" width="18" height="8" fill="#0c8400"/>
<rect x="612" y="530" width="18" height="8" fill="#108600"/>
<rect x="612" y="538" width="18" height="8" fill="#158800"/>
<rect x="612" y="546" width="18" height="8" fill="#1a8900"/>
<rect x="612" y="554" width="18" height="8" fill="#1f8b00"/>
<rect x="612" y="562" width="18" height="8" fill="#238d00"/>
<rect x="612" y="570" width="18" height="8" fill="#288e00"/>
<rect x="612" y="578" width="18" height="8" fill="#2d9000"/>
<rect x="612" y="586" width="18" height="8" fill="#319200"/>
<rect x="612" y="594" width="18" height="8" fill="#369300"/>
<rect x="612" y="602" width="18" height="8" fill="#3b9500"/>
<rect x="612" y="610" width="18" height="32" fill="#479900"/>
<rect x="612" y="642" width="18" height="8" fill="#3b9500"/>
<rect x="612" y="650" width="18" height="8" fill="#2f9100"/>
<rect x="612" y="658" width="18" height="8" fill="#1f8b00"/>
<rect x="612" y="666" width="18" height="8" fill="#078300"/>
<rect x="612" y="674" width="18" height="8" fill="#007b05"/>
<rect x="612" y="682" width="18" height="8" fill="#00681a"/>
<rect x="612" y="690" width="18" height="8" fill="#006023"/>
<rect x="612" y="698" width="18" height="8" fill="#005034"/>
<rect x="612" y="706" width="18" height="8" fill="#004046"/>
<rect x="612" y="714" width="18" height="8" fill="#003057"/>
<rect x="612" y="722" width="18" height="8" fill="#002365"/>
<rect x="612" y="730" width="18" height="8" fill="#001574"/>
<rect x="612" y="738" width="18" height="16" fill="#000882"/>
<rect x="612" y="754" width="18" height="24" fill="#00008b"/>
<rect x="612" y="778" width="18" height="24" fill="#060085"/>
<rect x="612" y="802" width="18" height="16" fill="#0b007f"/>
<rect x="630" y="170" width="18" height="128" fill="#0c000e"/>
<rect x="630" y="298" width="18" height="8" fill="#140076"/>
<rect x="630" y="306" width="18" height="8" fill="#0f007b"/>
<rect x="630" y="314" width="18" height="8" fill="#080083"/>
<rect x="630" y="322" width="18" height="8" fill="#040087"/>
<rect x="630" y="330" width="18" height="24" fill="#000882"/>
<rect x="630" y="354" width="18" height="24" fill="#001376"/>
<rect x="630" y="378" width="18" height="16" fill="#002068"/>
<rect x="630" y="394" width="18" height="16" fill="#002d5a"/>
<rect x="630" y="410" width="18" height="16" fill="#00384e"/>
<rect x="630" y="426" width="18" height="16" fill="#00483d"/>
<rect x="630" y="442" width="18" height="8" fill="#00582b"/>
<rect x="630" y="450" width="18" height="8" fill="#00651e"/>
<rect x="630" y="458" width="18" height="8" fill="#007011"/>
<rect x="630" y="466" width="18" height="16" fill="#007b05"/>
<rect x="630" y="482" width="18" height="16" fill="#078300"/>
<rect x="630" y="498" width="18" height="8" fill="#2f9100"/>
<rect x="630" y="506" width="18" height="8" fill="#349300"/>
<rect x="630" y="514" width="18" height="8" fill="#389400"/>
<rect x="630" y="522" width="18" height="8" fill="#3d9600"/>
<rect x="630" y="530" width="18" height="8" fill="#429800"/>
<rect x="630" y="538" width="18" height="8" fill="#479900"/>
<rect x="630" y="546" width="18" height="8" fill="#4b9b00"/>
<rect x="630" y="554" width="18" height="8" fill="#509d00"/>
<rect x="630" y="562" width="18" height="8" fill="#549e00"/>
<rect x="630" y="570" width="18" height="8" fill="#58a000"/>
<rect x="630" y="578" width="18" height="8" fill="#5da100"/>
<rect x="630" y="586" width="18" height="8" fill="#61a300"/>
<rect x="630" y="594" width="18" height="8" fill="#66a500"/>
<rect x="630" y="602" width="18" height="8" fill="#6aa600"/>
<rect x="630" y="610" width="18" height="16" fill="#81af00"/>
<rect x="630" y="626" width="18" height="8" fill="#8cb200"/>
<rect x="630" y="634" width="18" height="16" fill="#8db300"/>
<rect x="630" y="650" width="18" height="16" fill="#99b700"/>
<rect x="630" y="666" width="18" height="8" fill="#88b100"/>
<rect x="630" y="674" width="18" height="8" fill="#71a900"/>
<rect x="630" y="682" width="18" height="8" fill="#529e00"/>
<rect x="630" y="690" width="18" height="8" fill="#369300"/>
<rect x="630" y="698" width="18" height="8" fill="#1f8b00"/>
<rect x="630" y="706" width="18" height="8" fill="#008000"/>
<rect x="630" y="714" width="18" height="8" fill="#007011"/>
<rect x="630" y="722" width="18" height="8" fill="#006023"/>
<rect x="630" y="730" width="18" height="8" fill="#005034"/>
<rect x="630" y="738" width="18" height="8" fill="#004046"/>
<rect x="630" y="746" width="18" height="8" fill="#003057"/>
<rect x="630" y="754" width="18" height="8" fill="#002365"/>
<rect x="630" y="762" width="18" height="8" fill="#001871"/>
<rect x="630" y="770" width="18" height="16" fill="#000b7f"/>
<rect x="630" y="786" width="18" height="16" fill="#00008b"/>
<rect x="630" y="802" width="18" height="8" fill="#060085"/>
<rect x="630" y="810" width="18" height="8" fill="#0b007f"/>
<rect x="648" y="170" width="18" height="128" fill="#0c000e"/>
<rect x="648" y="298" width="18" height="8" fill="#110079"/>
<rect x="648" y="306" width="18" height="8" fill="#0e007d"/>
<rect x="648" y="314" width="18" height="8" fill="#060085"/>
<rect x="648" y="322" width="18" height="8" fill="#020089"/>
<rect x="648" y="330" width="18" height="16" fill="#001376"/>
<rect x="648" y="346" width="18" height="24" fill="#002860"/>
<rect x="648" y="370" width="18" height="24" fill="#00384e"/>
<rect x="648" y="394" width="18" height="16" fill="#004b39"/>
<rect x="648" y="410" width="18" height="8" fill="#005b28"/>
<rect x="648" y="418" width="18" height="8" fill="#00681a"/>
<rect x="648" y="426" width="18" height="8" fill="#00750c"/>
<rect x="648" y="434" width="18" height="8" fill="#078300"/>
<rect x="648" y="442" width="18" height="8" fill="#1f8b00"/>
<rect x="648" y="450" width="18" height="8" fill="#2f9100"/>
<rect x="648" y="458" width="18" height="8" fill="#429800"/>
<rect x="648" y="466" width="18" height="16" fill="#529e00"/>
<rect x="648" y="482" width="18" height="16" fill="#6aa600"/>
<rect x="648" y="498" width="18" height="8" fill="#76aa00"/>
<rect x="648" y="506" width="18" height="8" fill="#7aac00"/>
<rect x="648" y="514" width="18" height="8" fill="#7dad00"/>
<rect x="648" y="522" width="18" height="8" fill="#81af00"/>
<rect x="648" y="530" width="18" height="8" fill="#85b000"/>
<rect x="648" y="538" width="18" height="8" fill="#89b100"/>
<rect x="648" y="546" width="18" height="16" fill="#8db300"/>
<rect x="648" y="562" width="18" height="8" fill="#8fb400"/>
<rect x="648" y="570" width="18" height="8" fill="#91b400"/>
<rect x="648" y="578" width="18" height="8" fill="#93b500"/>
<rect x="648" y="586" width="18" height="8" fill="#95b600"/>
<rect x="648" y="594" width="18" height="8" fill="#97b600"/>
<rect x="648" y="602" width="18" height="16" fill="#92b500"/>
<rect x="648" y="618" width="18" height="8" fill="#99b700"/>
<rect x="648" y="626" width="18" height="8" fill="#acbe00"/>
<rect x="648" y="634" width="18" height="16" fill="#c3c600"/>
<rect x="648" y="650" width="18" height="8" fill="#c9a900"/>
<rect x="648" y="658" width="18" height="32" fill="#c99b00"/>
<rect x="648" y="690" width="18" height="8" fill="#c8c200"/>
<rect x="648" y="698" width="18" height="8" fill="#acbe00"/>
<rect x="648" y="706" width="18" height="8" fill="#81af00"/>
<rect x="648" y="714" width="18" height="8" fill="#59a000"/>
<rect x="648" y="722" width="18" height="8" fill="#349300"/>
<rect x="648" y="730" width="18" height="8" fill="#138700"/>
<rect x="648" y="738" width="18" height="8" fill="#007b05"/>
<rect x="648" y="746" width="18" height="8" fill="#00681a"/>
<rect x="648" y="754" width="18" height="8" fill="#005b28"/>
<rect x="648" y="762" width="18" height="8" fill="#00483d"/>
<rect x="648" y="770" width="18" height="8" fill="#003552"/>
<rect x="648" y="778" width="18" height="8" fill="#002860"/>
<rect x="648" y="786" width="18" height="8" fill="#001871"/>
<rect x="648" y="794" width="18" height="8" fill="#000b7f"/>
<rect x="648" y="802" width="18" height="16" fill="#00008b"/>
<rect x="666" y="170" width="18" height="120" fill="#0c000e"/>
<rect x="666" y="290" width="18" height="8" fill="#0b007f"/>
<rect x="666" y="298" width="18" height="8" fill="#00008b"/>
<rect x="666" y="306" width="18" height="16" fill="#000b7f"/>
<rect x="666" y="322" width="18" height="8" fill="#001871"/>
<rect x="666" y="330" width="18" height="16" fill="#001d6c"/>
<rect x="666" y="346" width="18" height="16" fill="#003057"/>
<rect x="666" y="362" width="18" height="16" fill="#004342"/>
<rect x="666" y="378" width="18" height="8" fill="#005331"/>
<rect x="666" y="386" width="18" height="8" fill="#006023"/>
<rect x="666" y="394" width="18" height="8" fill="#007011"/>
<rect x="666" y="402" width="18" height="8" fill="#007b05"/>
<rect x="666" y="410" width="18" height="8" fill="#138700"/>
<rect x="666" y="418" width="18" height="8" fill="#238d00"/>
<rect x="666" y="426" width="18" height="8" fill="#369300"/>
<rect x="666" y="434" width="18" height="8" fill="#4b9b00"/>
<rect x="666" y="442" width="18" height="8" fill="#6aa600"/>
<rect x="666" y="450" width="18" height="8" fill="#81af00"/>
<rect x="666" y="458" width="18" height="8" fill="#99b700"/>
<rect x="666" y="466" width="18" height="8" fill="#b0c000"/>
<rect x="666" y="474" width="18" height="32" fill="#c8c800"/>
<rect x="666" y="506" width="18" height="8" fill="#c6c700"/>
<rect x="666" y="514" width="18" height="8" fill="#c3c600"/>
<rect x="666" y="522" width="18" height="8" fill="#b8c200"/>
<rect x="666" y="530" width="18" height="8" fill="#aebf00"/>
<rect x="666" y="538" width="18" height="8" fill="#a5bb00"/>
<rect x="666" y="546" width="18" height="8" fill="#a0ba00"/>
<rect x="666" y="554" width="18" height="8" fill="#9fb900"/>
<rect x="666" y="562" width="18" height="8" fill="#9eb900"/>
<rect x="666" y="570" width="18" height="8" fill="#9db900"/>
<rect x="666" y="578" width="18" height="8" fill="#9cb800"/>
<rect x="666" y="586" width="18" height="8" fill="#9bb800"/>
<rect x="666" y="594" width="18" height="8" fill="#9ab700"/>
<rect x="666" y="602" width="18" height="16" fill="#92b500"/>
<rect x="666" y="618" width="18" height="8" fill="#a5bb00"/>
<rect x="666" y="626" width="18" height="8" fill="#b5c100"/>
<rect x="666" y="634" width="18" height="8" fill="#c8c800"/>
<rect x="666" y="642" width="18" height="8" fill="#c8b400"/>
<rect x="666" y="650" width="18" height="8" fill="#c99900"/>
<rect x="666" y="658" width="18" height="8" fill="#ca8a00"/>
<rect x="666" y="666" width="18" height="8" fill="#ca7200"/>
<rect x="666" y="674" width="18" height="24" fill="#cb5f00"/>
<rect x="666" y="698" width="18" height="8" fill="#ca8000"/>
<rect x="666" y="706" width="18" height="8" fill="#c99b00"/>
<rect x="666" y="714" width="18" height="8" fill="#c8c800"/>
<rect x="666" y="722" width="18" height="8" fill="#8db300"/>
<rect x="666" y="730" width="18" height="8" fill="#59a000"/>
<rect x="666" y="738" width="18" height="8" fill="#2f9100"/>
<rect x="666" y="746" width="18" height="8" fill="#138700"/>
<rect x="666" y="754" width="18" height="8" fill="#007809"/>
<rect x="666" y="762" width="18" height="8" fill="#006b17"/>
<rect x="666" y="770" width="18" height="8" fill="#005d26"/>
<rect x="666" y="778" width="18" height="8" fill="#005034"/>
<rect x="666" y="786" width="18" height="8" fill="#004342"/>
<rect x="666" y="794" width="18" height="8" fill="#003353"/>
<rect x="666" y="802" width="18" height="8" fill="#002365"/>
<rect x="666" y="810" width="18" height="8" fill="#001871"/>
<rect x="684" y="170" width="18" height="112" fill="#0c000e"/>
<rect x="684" y="282" width="18" height="8" fill="#060085"/>
<rect x="684" y="290" width="18" height="8" fill="#000b7f"/>
<rect x="684" y="298" width="18" height="8" fill="#001871"/>
<rect x="684" y="306" width="18" height="8" fill="#002860"/>
<rect x="684" y="314" width="18" height="8" fill="#003057"/>
<rect x="684" y="322" width="18" height="8" fill="#003552"/>
<rect x="684" y="330" width="18" height="8" fill="#003057"/>
<rect x="684" y="338" width="18" height="16" fill="#004046"/>
<rect x="684" y="354" width="18" height="16" fill="#005034"/>
<rect x="684" y="370" width="18" height="8" fill="#006023"/>
<rect x="684" y="378" width="18" height="8" fill="#007011"/>
<rect x="684" y="386" width="18" height="8" fill="#078300"/>
<rect x="684" y="394" width="18" height="8" fill="#2a8f00"/>
<rect x="684" y="402" width="18" height="8" fill="#529e00"/>
<rect x="684" y="410" width="18" height="8" fill="#81af00"/>
<rect x="684" y="418" width="18" height="8" fill="#b0c000"/>
<rect x="684" y="426" width="18" height="8" fill="#c8b800"/>
<rect x="684" y="434" width="18" height="8" fill="#c99500"/>
<rect x="684" y="442" width="18" height="8" fill="#ca7c00"/>
<rect x="684" y="450" width="18" height="16" fill="#ca6c00"/>
<rect x="684" y="466" width="18" height="8" fill="#ca7200"/>
<rect x="684" y="474" width="18" height="8" fill="#ca8400"/>
<rect x="684" y="482" width="18" height="8" fill="#c99500"/>
<rect x="684" y="490" width="18" height="8" fill="#c99b00"/>
<rect x="684" y="498" width="18" height="8" fill="#c9a900"/>
<rect x="684" y="506" width="18" height="16" fill="#c8c200"/>
<rect x="684" y="522" width="18" height="16" fill="#b0c000"/>
<rect x="684" y="538" width="18" height="32" fill="#a5bb00"/>
<rect x="684" y="570" width="18" height="32" fill="#a0ba00"/>
<rect x="684" y="602" width="18" height="16" fill="#a5bb00"/>
<rect x="684" y="618" width="18" height="8" fill="#b5c100"/>
<rect x="684" y="626" width="18" height="8" fill="#c8c800"/>
<rect x="684" y="634" width="18" height="8" fill="#c8b400"/>
<rect x="684" y="642" width="18" height="8" fill="#c99f00"/>
<rect x="684" y="650" width="18" height="8" fill="#ca8a00"/>
<rect x="684" y="658" width="18" height="8" fill="#ca7a00"/>
<rect x="684" y="666" width="18" height="8" fill="#ca6600"/>
<rect x="684" y="674" width="18" height="24" fill="#cb5900"/>
<rect x="684" y="698" width="18" height="8" fill="#ca7a00"/>
<rect x="684" y="706" width="18" height="8" fill="#c99900"/>
<rect x="684" y="714" width="18" height="8" fill="#c3c600"/>
<rect x="684" y="722" width="18" height="8" fill="#88b100"/>
<rect x="684" y="730" width="18" height="8" fill="#529e00"/>
<rect x="684" y="738" width="18" height="8" fill="#2f9100"/>
<rect x="684" y="746" width="18" height="8" fill="#138700"/>
<rect x="684" y="754" width="18" height="8" fill="#008000"/>
<rect x="684" y="762" width="18" height="8" fill="#007011"/>
<rect x="684" y="770" width="18" height="8" fill="#00631f"/>
<rect x="684" y="778" width="18" height="8" fill="#00582b"/>
<rect x="684" y="786" width="18" height="8" fill="#004b39"/>
<rect x="684" y="794" width="18" height="8" fill="#003d49"/>
<rect x="684" y="802" width="18" height="8" fill="#003057"/>
<rect x="684" y="810" width="18" height="8" fill="#002068"/>
<rect x="702" y="170" width="18" height="96" fill="#0c000e"/>
<rect x="702" y="266" width="18" height="8" fill="#060085"/>
<rect x="702" y="274" width="18" height="8" fill="#000b7f"/>
<rect x="702" y="282" width="18" height="8" fill="#001871"/>
<rect x="702" y="290" width="18" height="8" fill="#002d5a"/>
<rect x="702" y="298" width="18" height="8" fill="#00384e"/>
<rect x="702" y="306" width="18" height="8" fill="#00483d"/>
<rect x="702" y="314" width="18" height="8" fill="#005034"/>
<rect x="702" y="322" width="18" height="8" fill="#005b28"/>
<rect x="702" y="330" width="18" height="8" fill="#006023"/>
<rect x="702" y="338" width="18" height="8" fill="#007011"/>
<rect x="702" y="346" width="18" height="8" fill="#078300"/>
<rect x="702" y="354" width="18" height="8" fill="#2a8f00"/>
<rect x="702" y="362" width="18" height="8" fill="#59a000"/>
<rect x="702" y="370" width="18" height="8" fill="#99b700"/>
<rect x="702" y="378" width="18" height="8" fill="#c8c400"/>
<rect x="702" y="386" width="18" height="8" fill="#ca7c00"/>
<rect x="702" y="394" width="18" height="8" fill="#cb3d00"/>
<rect x="702" y="402" width="18" height="24" fill="#cd2300"/>
<rect x="702" y="426" width="18" height="8" fill="#cc2400"/>
<rect x="702" y="434" width="18" height="8" fill="#cc2e00"/>
<rect x="702" y="442" width="18" height="8" fill="#cb4300"/>
<rect x="702" y="450" width="18" height="8" fill="#cb5300"/>
<rect x="702" y="458" width="18" height="8" fill="#ca6600"/>
<rect x="702" y="466" width="18" height="8" fill="#ca7600"/>
<rect x="702" y="474" width="18" height="8" fill="#ca8400"/>
<rect x="702" y="482" width="18" height="8" fill="#c99500"/>
<rect x="702" y="490" width="18" height="8" fill="#c9a500"/>
<rect x="702" y="498" width="18" height="8" fill="#c8b400"/>
<rect x="702" y="506" width="18" height="16" fill="#c8c800"/>
<rect x="702" y="522" width="18" height="16" fill="#b0c000"/>
<rect x="702" y="538" width="18" height="48" fill="#a5bb00"/>
<rect x="702" y="586" width="18" height="16" fill="#bcc400"/>
<rect x="702" y="602" width="18" height="8" fill="#c8c400"/>
<rect x="702" y="610" width="18" height="8" fill="#c9ad00"/>
<rect x="702" y="618" width="18" height="8" fill="#c99f00"/>
<rect x="702" y="626" width="18" height="8" fill="#c98f00"/>
<rect x="702" y="634" width="18" height="8" fill="#ca7600"/>
<rect x="702" y="642" width="18" height="24" fill="#cb5b00"/>
<rect x="702" y="666" width="18" height="8" fill="#ca6600"/>
<rect x="702" y="674" width="18" height="8" fill="#ca8600"/>
<rect x="702" y="682" width="18" height="8" fill="#c9ad00"/>
<rect x="702" y="690" width="18" height="8" fill="#c3c600"/>
<rect x="702" y="698" width="18" height="8" fill="#88b100"/>
<rect x="702" y="706" width="18" height="8" fill="#529e00"/>
<rect x="702" y="714" width="18" height="8" fill="#238d00"/>
<rect x="702" y="722" width="18" height="8" fill="#078300"/>
<rect x="702" y="730" width="18" height="8" fill="#00750c"/>
<rect x="702" y="738" width="18" height="8" fill="#00681a"/>
<rect x="702" y="746" width="18" height="8" fill="#00582b"/>
<rect x="702" y="754" width="18" height="8" fill="#00483d"/>
<rect x="702" y="762" width="18" height="8" fill="#004046"/>
<rect x="702" y="770" width="18" height="8" fill="#003057"/>
<rect x="702" y="778" width="18" height="8" fill="#002860"/>
<rect x="702" y="786" width="18" height="16" fill="#001d6c"/>
<rect x="702" y="802" width="18" height="16" fill="#001871"/>
<rect x="720" y="170" width="18" height="64" fill="#0c000e"/>
<rect x="720" y="234" width="18" height="8" fill="#060085"/>
<rect x="720" y="242" width="18" height="8" fill="#00008b"/>
<rect x="720" y="250" width="18" height="8" fill="#000b7f"/>
<rect x="720" y="258" width="18" height="8" fill="#001871"/>
<rect x="720" y="266" width="18" height="8" fill="#002d5a"/>
<rect x="720" y="274" width="18" height="8" fill="#00384e"/>
<rect x="720" y="282" width="18" height="8" fill="#00483d"/>
<rect x="720" y="290" width="18" height="8" fill="#005331"/>
<rect x="720" y="298" width="18" height="8" fill="#006023"/>
<rect x="720" y="306" width="18" height="8" fill="#007011"/>
<rect x="720" y="314" width="18" height="8" fill="#138700"/>
<rect x="720" y="322" width="18" height="8" fill="#63a400"/>
<rect x="720" y="330" width="18" height="8" fill="#acbe00"/>
<rect x="720" y="338" width="18" height="8" fill="#ca8600"/>
<rect x="720" y="346" width="18" height="8" fill="#cc3400"/>
<rect x="720" y="354" width="18" height="8" fill="#d12100"/>
<rect x="720" y="362" width="18" height="24" fill="#d81c00"/>
<rect x="720" y="386" width="18" height="8" fill="#d71c00"/>
<rect x="720" y="394" width="18" height="8" fill="#d61d00"/>
<rect x="720" y="402" width="18" height="24" fill="#d12100"/>
<rect x="720" y="426" width="18" height="8" fill="#ce2300"/>
<rect x="720" y="434" width="18" height="8" fill="#cc2e00"/>
<rect x="720" y="442" width="18" height="8" fill="#cb4300"/>
<rect x="720" y="450" width="18" height="8" fill="#cb5700"/>
<rect x="720" y="458" width="18" height="8" fill="#ca6800"/>
<rect x="720" y="466" width="18" height="8" fill="#ca7600"/>
<rect x="720" y="474" width="18" height="8" fill="#ca8400"/>
<rect x="720" y="482" width="18" height="8" fill="#c98f00"/>
<rect x="720" y="490" width="18" height="8" fill="#c99500"/>
<rect x="720" y="498" width="18" height="24" fill="#c9a300"/>
<rect x="720" y="522" width="18" height="16" fill="#c99f00"/>
<rect x="720" y="538" width="18" height="8" fill="#c99b00"/>
<rect x="720" y="546" width="18" height="8" fill="#c9a500"/>
<rect x="720" y="554" width="18" height="8" fill="#c99500"/>
<rect x="720" y="562" width="18" height="8" fill="#ca8a00"/>
<rect x="720" y="570" width="18" height="8" fill="#ca8600"/>
<rect x="720" y="578" width="18" height="8" fill="#ca7000"/>
<rect x="720" y="586" width="18" height="8" fill="#cb5300"/>
<rect x="720" y="594" width="18" height="8" fill="#cb4700"/>
<rect x="720" y="602" width="18" height="8" fill="#cc2e00"/>
<rect x="720" y="610" width="18" height="24" fill="#cc2800"/>
<rect x="720" y="634" width="18" height="8" fill="#cb4300"/>
<rect x="720" y="642" width="18" height="8" fill="#ca8000"/>
<rect x="720" y="650" width="18" height="8" fill="#c8b800"/>
<rect x="720" y="658" width="18" height="8" fill="#b5c100"/>
<rect x="720" y="666" width="18" height="8" fill="#7aac00"/>
<rect x="720" y="674" width="18" height="8" fill="#429800"/>
<rect x="720" y="682" width="18" height="8" fill="#1f8b00"/>
<rect x="720" y="690" width="18" height="8" fill="#008000"/>
<rect x="720" y="698" width="18" height="8" fill="#006023"/>
<rect x="720" y="706" width="18" height="8" fill="#005034"/>
<rect x="720" y="714" width="18" height="8" fill="#004342"/>
<rect x="720" y="722" width="18" height="8" fill="#003552"/>
<rect x="720" y="730" width="18" height="8" fill="#002860"/>
<rect x="720" y="738" width="18" height="8" fill="#001d6c"/>
<rect x="720" y="746" width="18" height="8" fill="#001871"/>
<rect x="720" y="754" width="18" height="48" fill="#001574"/>
<rect x="720" y="802" width="18" height="16" fill="#030003"/>
<rect x="738" y="170" width="18" height="40" fill="#0c000e"/>
<rect x="738" y="210" width="18" height="8" fill="#060085"/>
<rect x="738" y="218" width="18" height="8" fill="#00008b"/>
<rect x="738" y="226" width="18" height="8" fill="#000b7f"/>
<rect x="738" y="234" width="18" height="8" fill="#001871"/>
<rect x="738" y="242" width="18" height="8" fill="#002d5a"/>
<rect x="738" y="250" width="18" height="8" fill="#00384e"/>
<rect x="738" y="258" width="18" height="8" fill="#00483d"/>
<rect x="738" y="266" width="18" height="8" fill="#00582b"/>
<rect x="738" y="274" width="18" height="8" fill="#00681a"/>
<rect x="738" y="282" width="18" height="8" fill="#078300"/>
<rect x="738" y="290" width="18" height="8" fill="#63a400"/>
<rect x="738" y="298" width="18" height="8" fill="#c3c600"/>
<rect x="738" y="306" width="18" height="8" fill="#ca6c00"/>
<rect x="738" y="314" width="18" height="8" fill="#cf2200"/>
<rect x="738" y="322" width="18" height="8" fill="#db1900"/>
<rect x="738" y="330" width="18" height="56" fill="#e71100"/>
<rect x="738" y="386" width="18" height="24" fill="#de1700"/>
<rect x="738" y="410" width="18" height="16" fill="#d71c00"/>
<rect x="738" y="426" width="18" height="8" fill="#d12100"/>
<rect x="738" y="434" width="18" height="8" fill="#cc2400"/>
<rect x="738" y="442" width="18" height="8" fill="#cc2a00"/>
<rect x="738" y="450" width="18" height="16" fill="#cc3400"/>
<rect x="738" y="466" width="18" height="16" fill="#cc3800"/>
<rect x="738" y="482" width="18" height="8" fill="#cb3d00"/>
<rect x="738" y="490" width="18" height="8" fill="#cb3f00"/>
<rect x="738" y="498" width="18" height="8" fill="#cb4300"/>
<rect x="738" y="506" width="18" height="16" fill="#cc2e00"/>
<rect x="738" y="522" width="18" height="16" fill="#d12100"/>
<rect x="738" y="538" width="18" height="24" fill="#d71c00"/>
<rect x="738" y="562" width="18" height="32" fill="#d51e00"/>
<rect x="738" y="594" width="18" height="8" fill="#cc2400"/>
<rect x="738" y="602" width="18" height="8" fill="#cc3800"/>
<rect x="738" y="610" width="18" height="8" fill="#ca6600"/>
<rect x="738" y="618" width="18" height="8" fill="#c99b00"/>
<rect x="738" y="626" width="18" height="8" fill="#c8c800"/>
<rect x="738" y="634" width="18" height="8" fill="#92b500"/>
<rect x="738" y="642" width="18" height="8" fill="#529e00"/>
<rect x="738" y="650" width="18" height="8" fill="#238d00"/>
<rect x="738" y="658" width="18" height="8" fill="#008000"/>
<rect x="738" y="666" width="18" height="8" fill="#00631f"/>
<rect x="738" y="674" width="18" height="8" fill="#004b39"/>
<rect x="738" y="682" width="18" height="8" fill="#003057"/>
<rect x="738" y="690" width="18" height="8" fill="#001871"/>
<rect x="738" y="698" width="18" height="8" fill="#000b7f"/>
<rect x="738" y="706" width="18" height="8" fill="#000388"/>
<rect x="738" y="714" width="18" height="56" fill="#00008b"/>
<rect x="738" y="770" width="18" height="48" fill="#030003"/>
<rect x="756" y="170" width="18" height="24" fill="#0c000e"/>
<rect x="756" y="194" width="18" height="8" fill="#0b007f"/>
<rect x="756" y="202" width="18" height="16" fill="#060085"/>
<rect x="756" y="218" width="18" height="8" fill="#000b7f"/>
<rect x="756" y="226" width="18" height="8" fill="#001d6c"/>
<rect x="756" y="234" width="18" height="8" fill="#003057"/>
<rect x="756" y="242" width="18" height="8" fill="#004046"/>
<rect x="756" y="250" width="18" height="8" fill="#005034"/>
<rect x="756" y="258" width="18" height="8" fill="#007011"/>
<rect x="756" y="266" width="18" height="8" fill="#238d00"/>
<rect x="756" y="274" width="18" height="8" fill="#92b500"/>
<rect x="756" y="282" width="18" height="8" fill="#c99b00"/>
<rect x="756" y="290" width="18" height="8" fill="#cc2e00"/>
<rect x="756" y="298" width="18" height="8" fill="#df1600"/>
<rect x="756" y="306" width="18" height="24" fill="#f00b00"/>
<rect x="756" y="330" width="18" height="64" fill="#ef0b00"/>
<rect x="756" y="394" width="18" height="24" fill="#e71100"/>
<rect x="756" y="418" width="18" height="24" fill="#de1700"/>
<rect x="756" y="442" width="18" height="8" fill="#d71c00"/>
<rect x="756" y="450" width="18" height="16" fill="#d41e00"/>
<rect x="756" y="466" width="18" height="8" fill="#d61d00"/>
<rect x="756" y="474" width="18" height="8" fill="#da1a00"/>
<rect x="756" y="482" width="18" height="8" fill="#dc1900"/>
<rect x="756" y="490" width="18" height="8" fill="#de1700"/>
<rect x="756" y="498" width="18" height="8" fill="#df1600"/>
<rect x="756" y="506" width="18" height="16" fill="#ea0f00"/>
<rect x="756" y="522" width="18" height="24" fill="#f30800"/>
<rect x="756" y="546" width="18" height="16" fill="#f80500"/>
<rect x="756" y="562" width="18" height="8" fill="#ec0e00"/>
<rect x="756" y="570" width="18" height="8" fill="#df1600"/>
<rect x="756" y="578" width="18" height="8" fill="#d51e00"/>
<rect x="756" y="586" width="18" height="8" fill="#cb3d00"/>
<rect x="756" y="594" width="18" height="8" fill="#ca7200"/>
<rect x="756" y="602" width="18" height="8" fill="#c9a500"/>
<rect x="756" y="610" width="18" height="8" fill="#bcc400"/>
<rect x="756" y="618" width="18" height="8" fill="#88b100"/>
<rect x="756" y="626" width="18" height="8" fill="#429800"/>
<rect x="756" y="634" width="18" height="8" fill="#078300"/>
<rect x="756" y="642" width="18" height="8" fill="#00631f"/>
<rect x="756" y="650" width="18" height="8" fill="#00483d"/>
<rect x="756" y="658" width="18" height="8" fill="#002860"/>
<rect x="756" y="666" width="18" height="8" fill="#001376"/>
<rect x="756" y="674" width="18" height="8" fill="#000388"/>
<rect x="756" y="682" width="18" height="16" fill="#00008b"/>
<rect x="756" y="698" width="18" height="8" fill="#0a0080"/>
<rect x="756" y="706" width="18" height="32" fill="#0f007b"/>
<rect x="756" y="738" width="18" height="80" fill="#030003"/>
<rect x="774" y="170" width="18" height="8" fill="#0c000e"/>
<rect x="774" y="178" width="18" height="8" fill="#110079"/>
<rect x="774" y="186" width="18" height="8" fill="#060085"/>
<rect x="774" y="194" width="18" height="8" fill="#040087"/>
<rect x="774" y="202" width="18" height="8" fill="#020089"/>
<rect x="774" y="210" width="18" height="8" fill="#000882"/>
<rect x="774" y="218" width="18" height="8" fill="#00107a"/>
<rect x="774" y="226" width="18" height="8" fill="#001d6c"/>
<rect x="774" y="234" width="18" height="8" fill="#003552"/>
<rect x="774" y="242" width="18" height="8" fill="#00582b"/>
<rect x="774" y="250" width="18" height="8" fill="#008000"/>
<rect x="774" y="258" width="18" height="8" fill="#429800"/>
<rect x="774" y="266" width="18" height="8" fill="#c3c600"/>
<rect x="774" y="274" width="18" height="8" fill="#ca6200"/>
<rect x="774" y="282" width="18" height="8" fill="#d71c00"/>
<rect x="774" y="290" width="18" height="32" fill="#ef0b00"/>
<rect x="774" y="322" width="18" height="8" fill="#ed0d00"/>
<rect x="774" y="330" width="18" height="8" fill="#e71100"/>
<rect x="774" y="338" width="18" height="40" fill="#de1700"/>
<rect x="774" y="378" width="18" height="8" fill="#d71c00"/>
<rect x="774" y="386" width="18" height="8" fill="#cf2200"/>
<rect x="774" y="394" width="18" height="8" fill="#cc2800"/>
<rect x="774" y="402" width="18" height="16" fill="#cc3400"/>
<rect x="774" y="418" width="18" height="32" fill="#cb3d00"/>
<rect x="774" y="450" width="18" height="8" fill="#cc2e00"/>
<rect x="774" y="458" width="18" height="8" fill="#d12100"/>
<rect x="774" y="466" width="18" height="16" fill="#db1900"/>
<rect x="774" y="482" width="18" height="16" fill="#e71100"/>
<rect x="774" y="498" width="18" height="16" fill="#ed0d00"/>
<rect x="774" y="514" width="18" height="8" fill="#f60700"/>
<rect x="774" y="522" width="18" height="8" fill="#ff0606"/>
<rect x="774" y="530" width="18" height="8" fill="#ff2e2e"/>
<rect x="774" y="538" width="18" height="8" fill="#fc0200"/>
<rect x="774" y="546" width="18" height="8" fill="#fd0100"/>
<rect x="774" y="554" width="18" height="8" fill="#f00b00"/>
<rect x="774" y="562" width="18" height="8" fill="#df1600"/>
<rect x="774" y="570" width="18" height="8" fill="#cb4700"/>
<rect x="774" y="578" width="18" height="8" fill="#c99500"/>
<rect x="774" y="586" width="18" height="8" fill="#c8c800"/>
<rect x="774" y="594" width="18" height="8" fill="#92b500"/>
<rect x="774" y="602" width="18" height="8" fill="#529e00"/>
<rect x="774" y="610" width="18" height="8" fill="#138700"/>
<rect x="774" y="618" width="18" height="8" fill="#00681a"/>
<rect x="774" y="626" width="18" height="8" fill="#004b39"/>
<rect x="774" y="634" width="18" height="8" fill="#002860"/>
<rect x="774" y="642" width="18" height="8" fill="#000b7f"/>
<rect x="774" y="650" width="18" height="8" fill="#000388"/>
<rect x="774" y="658" width="18" height="8" fill="#040087"/>
<rect x="774" y="666" width="18" height="8" fill="#0b0080"/>
<rect x="774" y="674" width="18" height="8" fill="#130077"/>
<rect x="774" y="682" width="18" height="8" fill="#1c006d"/>
<rect x="774" y="690" width="18" height="24" fill="#1e006b"/>
<rect x="774" y="714" width="18" height="104" fill="#030003"/>
</g>
<g stroke="#000" stroke-width="1" fill="none">
<rect x="144" y="169.8" width="648.3" height="648.2"/>
<path d="M162.0 818v-6.5M162.0 170v6.5M180.0 818v-6.5M180.0 170v6.5M198.0 818v-6.5M198.0 170v6.5M216.0 818v-6.5M216.0 170v6.5M234.0 818v-13M234.0 170v13M252.0 818v-6.5M252.0 170v6.5M270.0 818v-6.5M270.0 170v6.5M288.0 818v-6.5M288.0 170v6.5M306.0 818v-6.5M306.0 170v6.5M324.0 818v-13M324.0 170v13M342.0 818v-6.5M342.0 170v6.5M360.0 818v-6.5M360.0 170v6.5M378.0 818v-6.5M378.0 170v6.5M396.0 818v-6.5M396.0 170v6.5M414.0 818v-13M414.0 170v13M432.0 818v-6.5M432.0 170v6.5M450.0 818v-6.5M450.0 170v6.5M468.0 818v-6.5M468.0 170v6.5M486.0 818v-6.5M486.0 170v6.5M504.0 818v-13M504.0 170v13M522.0 818v-6.5M522.0 170v6.5M540.0 818v-6.5M540.0 170v6.5M558.0 818v-6.5M558.0 170v6.5M576.0 818v-6.5M576.0 170v6.5M594.0 818v-13M594.0 170v13M612.0 818v-6.5M612.0 170v6.5M630.0 818v-6.5M630.0 170v6.5M648.0 818v-6.5M648.0 170v6.5M666.0 818v-6.5M666.0 170v6.5M684.0 818v-13M684.0 170v13M702.0 818v-6.5M702.0 170v6.5M720.0 818v-6.5M720.0 170v6.5M738.0 818v-6.5M738.0 170v6.5M756.0 818v-6.5M756.0 170v6.5M774.0 818v-13M774.0 170v13M144 738.1h6.5M792 738.1h-6.5M144 658.1h13M792 658.1h-13M144 578.1h6.5M792 578.1h-6.5M144 498.1h13M792 498.1h-13M144 418.1h6.5M792 418.1h-6.5M144 338.1h13M792 338.1h-13M144 258.1h6.5M792 258.1h-6.5M144 178.1h13M792 178.1h-13"/>
</g>
<rect x="539.5" y="33.3" width="325.0" height="15" fill="url(#pal)"/>
<g stroke="#000" stroke-width="1" fill="none" shape-rendering="crispEdges">
<rect x="539.5" y="33" width="325.0" height="15"/>
<path d="M594.5 33v2.5M594.5 48v-2.5M648.5 33v2.5M648.5 48v-2.5M702.5 33v2.5M702.5 48v-2.5M756.5 33v2.5M756.5 48v-2.5M810.5 33v2.5M810.5 48v-2.5"/>
</g>
<text x="702" y="20" text-anchor="middle">TEC</text>
<text x="539.5" y="82" text-anchor="middle">0</text>
<text x="593.7" y="82" text-anchor="middle">10</text>
<text x="647.8" y="82" text-anchor="middle">20</text>
<text x="702.0" y="82" text-anchor="middle">30</text>
<text x="756.2" y="82" text-anchor="middle">40</text>
<text x="810.3" y="82" text-anchor="middle">50</text>
<text x="864.5" y="82" text-anchor="middle">60</text>
<text x="471" y="155.2" text-anchor="middle" xml:space="preserve" style="white-space:pre">PBf20160902  UT: 16.5  mjd: 57633</text>
<text x="130" y="184.8" text-anchor="end">40</text>
<text x="130" y="344.8" text-anchor="end">20</text>
<text x="130" y="504.8" text-anchor="end">0</text>
<text x="130" y="664.8" text-anchor="end">-20</text>
<text x="130" y="824.8" text-anchor="end">-40</text>
<text x="144.0" y="852" text-anchor="middle">0</text>
<text x="234.0" y="852" text-anchor="middle">50</text>
<text x="324.0" y="852" text-anchor="middle">100</text>
<text x="414.0" y="852" text-anchor="middle">150</text>
<text x="504.0" y="852" text-anchor="middle">200</text>
<text x="594.0" y="852" text-anchor="middle">250</text>
<text x="684.0" y="852" text-anchor="middle">300</text>
<text x="774.0" y="852" text-anchor="middle">350</text>
<text x="-0.5" y="417.8">Latitude</text>
<text x="468" y="893" text-anchor="middle">Longitude</text>
</svg></body></html>
